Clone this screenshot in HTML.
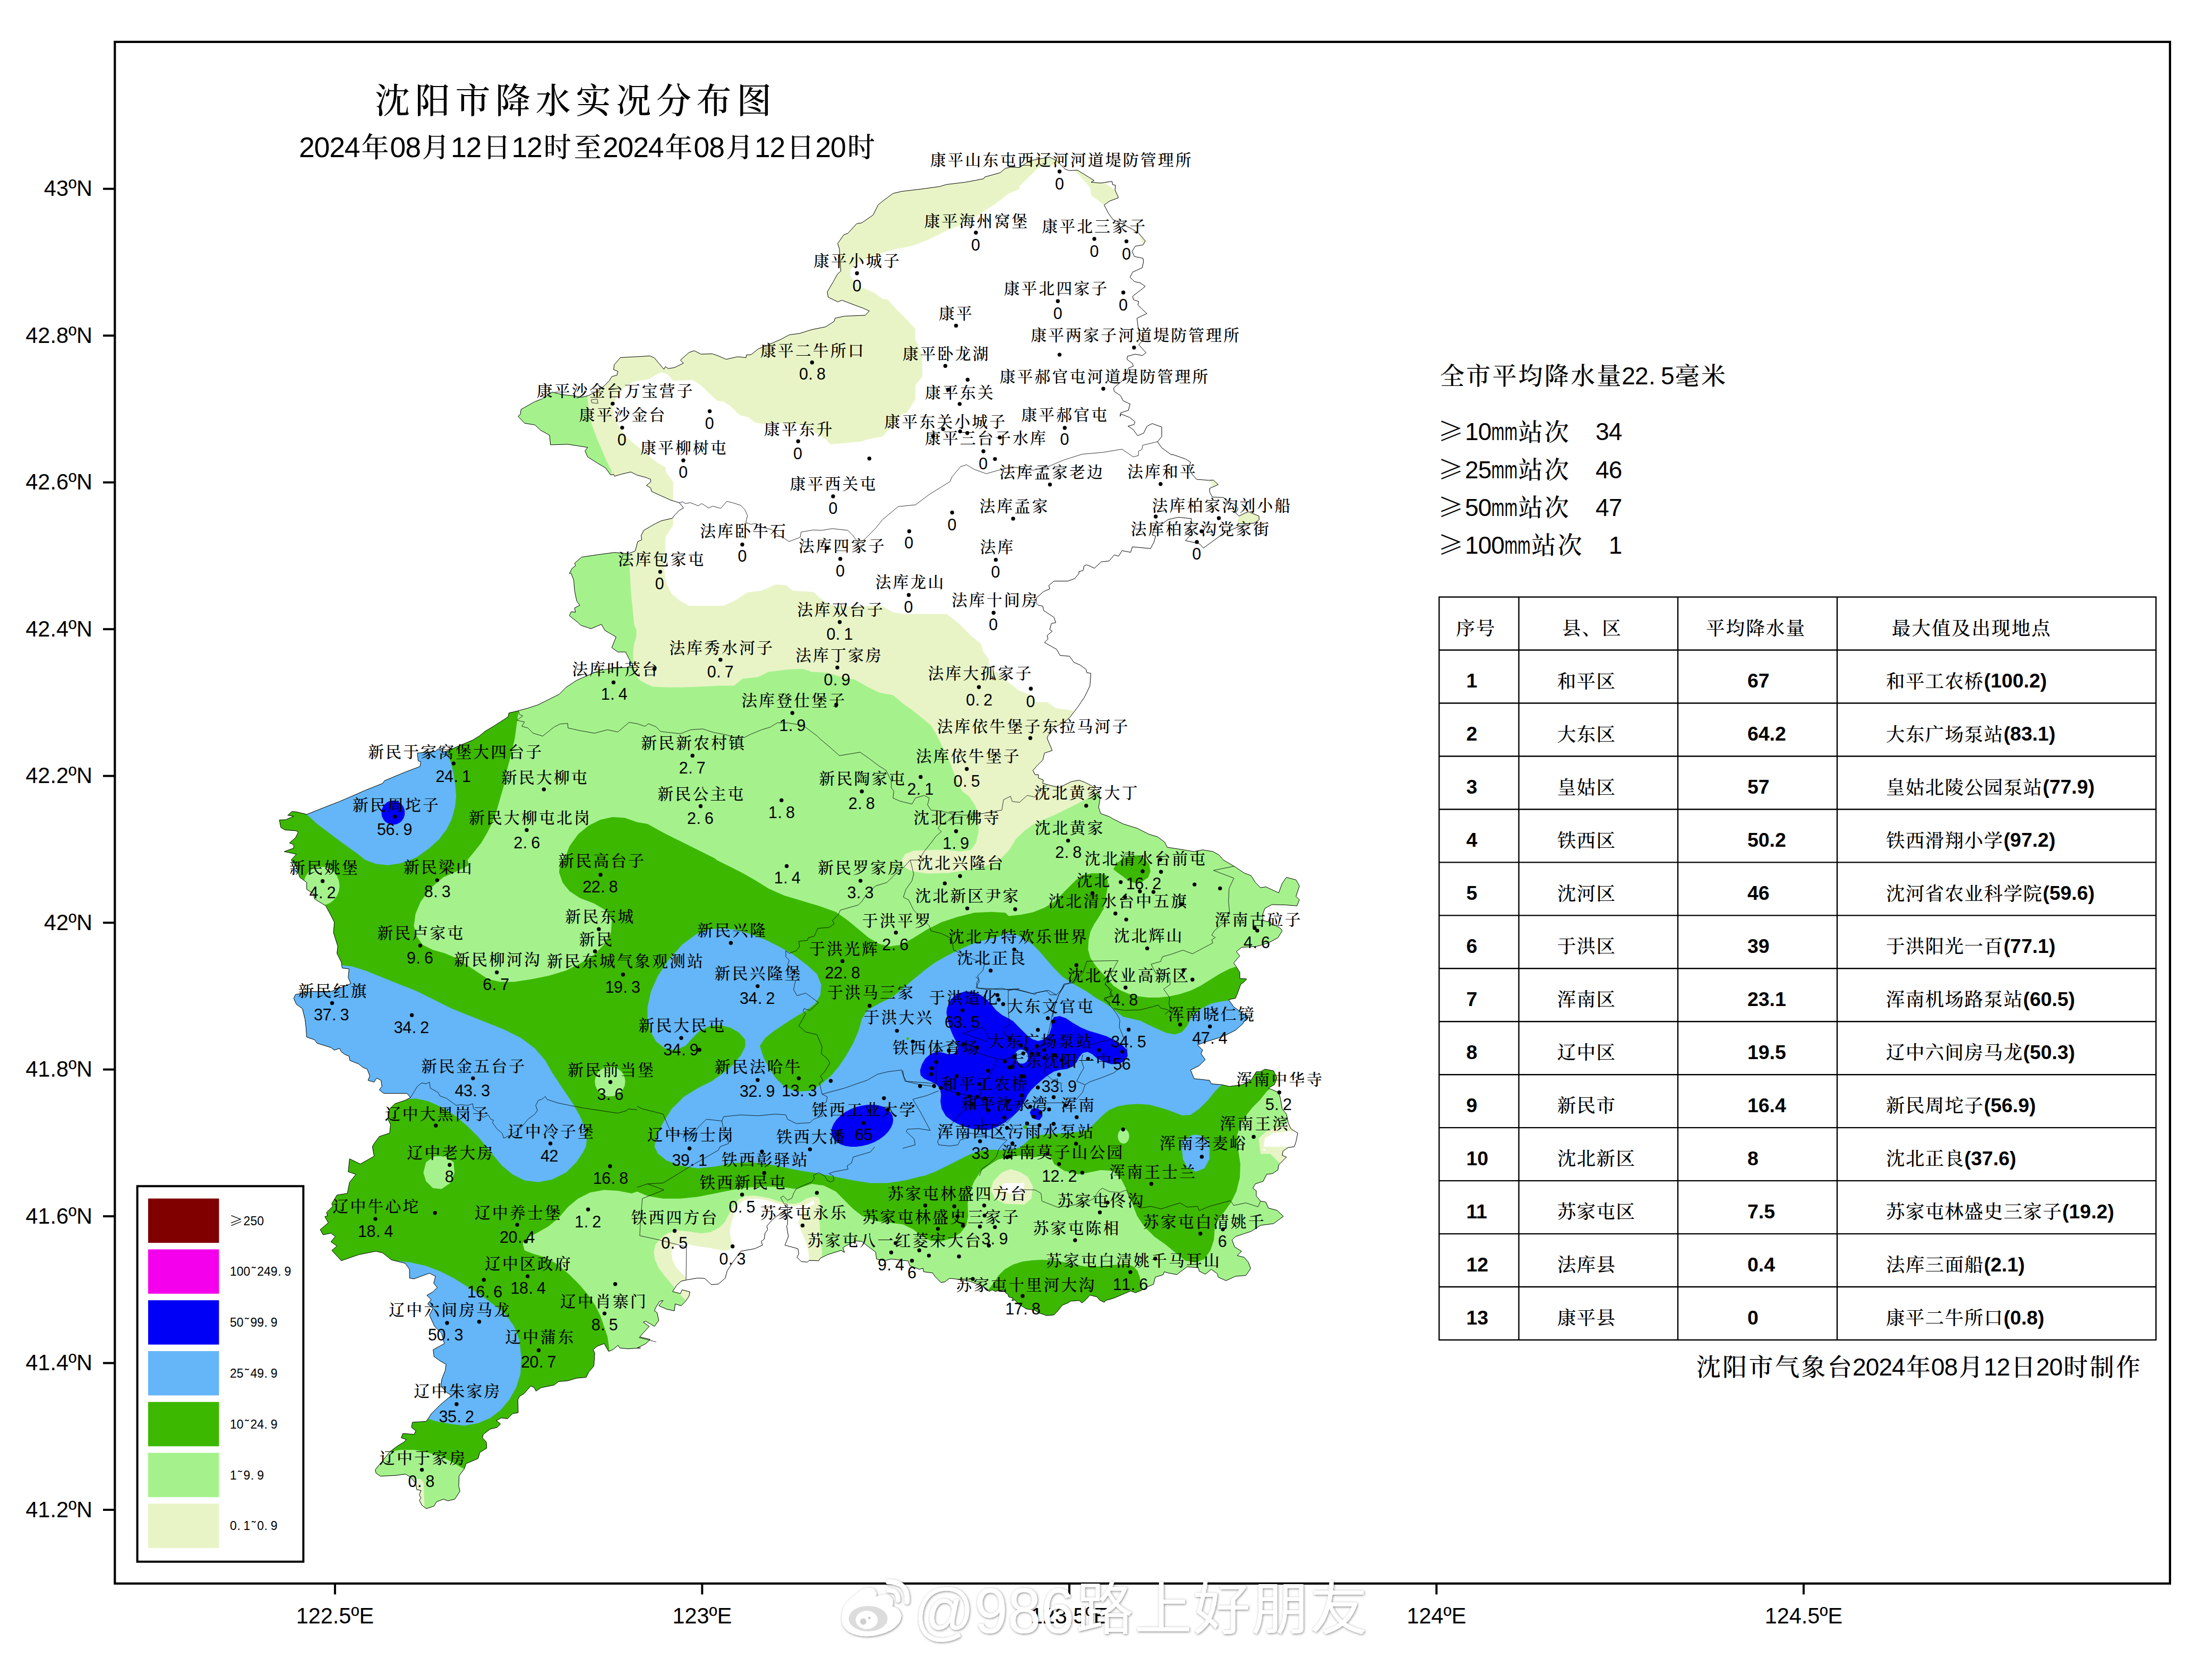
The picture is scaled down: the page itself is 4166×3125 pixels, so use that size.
<!DOCTYPE html><html><head><meta charset="utf-8"><title>沈阳市降水实况分布图</title>
<style>html,body{margin:0;padding:0;background:#fff}svg{display:block}.k{font-family:"Liberation Serif","Noto Serif CJK SC",serif;font-weight:500}.s{font-family:"Liberation Sans","Noto Sans CJK SC",sans-serif}.lb{font-family:"Liberation Serif","Noto Serif CJK SC",serif;font-size:29.8px;letter-spacing:3.2px;font-weight:500}.v{font-family:"Liberation Sans","Noto Sans CJK SC",sans-serif;font-size:30.5px;text-anchor:middle}</style></head><body>
<svg width="4166" height="3125" viewBox="0 0 4166 3125">
<rect x="0" y="0" width="4166" height="3125" fill="#fff"/>
<defs><clipPath id="city"><path d="M1224.4 670.4 L1232.6 674.3 L1250.5 695.8 L1253.1 690.6 L1258.6 694.2 L1270 692.5 L1287.2 684.1 L1281.4 678.5 L1297.7 663.9 L1307.4 660.6 L1320.4 667.1 L1341.6 666.5 L1353 670.4 L1367.6 676.9 L1388.8 672 L1405.1 673.6 L1405.7 668.8 L1414.8 667.8 L1427.9 657.4 L1447.4 649.2 L1470.2 639.5 L1486.5 630.7 L1506 628.1 L1528.8 620.9 L1554.8 615.7 L1571.1 605.3 L1572.7 599.4 L1590.6 595.5 L1629.7 593.9 L1637.2 585.8 L1626.4 580.9 L1585.7 565.6 L1577.6 568.5 L1559.7 559.7 L1558.1 549.9 L1569.5 530.4 L1577.6 515.8 L1583.5 510.9 L1580.9 468.6 L1577.6 458.8 L1589 442.5 L1597.1 439.3 L1613.4 421.4 L1623.2 419.7 L1644.3 405.1 L1654.1 385.6 L1662.2 379 L1681.8 364.4 L1698 360.5 L1733.9 356.3 L1769.7 351.4 L1782.7 347.5 L1818.5 343.2 L1852.7 336.7 L1854.3 333.5 L1883.6 325.3 L1893.4 317.2 L1903.1 314.9 L1920.1 315.6 L1939.5 302.6 L1962.3 298.6 L1977 296 L1990 302.6 L2006.3 318.8 L2014.4 321.4 L2029 320.5 L2050.2 333.5 L2060.6 340 L2055.1 343.2 L2073 344.9 L2094.2 341.6 L2095.8 348.1 L2100.7 348.8 L2100 357.9 L2106.5 372.5 L2089.3 379 L2079.5 386.2 L2087.6 401.8 L2095.8 413.2 L2115.3 423 L2131.6 431.1 L2144.6 439.3 L2157 453.9 L2152.7 461.4 L2138.1 463.7 L2132.2 473.5 L2136.5 483.2 L2152.7 486.5 L2153.7 493 L2151.1 504.4 L2133.2 512.5 L2128.3 522.3 L2136.5 530.4 L2147.9 533 L2157 539.5 L2133.2 558.1 L2134.8 564.6 L2144.6 567.9 L2143 574.4 L2151.1 582.5 L2159.9 590.6 L2141.4 599.4 L2143 613.4 L2146.2 628.1 L2154.4 639.5 L2144.6 649.2 L2158.6 664.5 L2151.1 669.7 L2138.1 667.1 L2123.5 671 L2122.5 676.9 L2133.2 685 L2134.2 689.9 L2125.7 693.2 L2121.8 702.9 L2115.3 716 L2097.4 730.6 L2098.4 737.1 L2110.4 745.3 L2115.3 755 L2128.3 760.9 L2125.1 772.9 L2110.4 777.8 L2109.5 784.3 L2111.5 780 L2127.8 786.5 L2137.6 794.6 L2136 799.5 L2124.6 802.8 L2134.3 809.3 L2142.5 820.7 L2153.9 815.8 L2160.4 802.8 L2170.1 797.9 L2188 804.4 L2188 822.3 L2179.9 832.1 L2188 843.5 L2205.9 856.5 L2209.8 856.5 L2232.6 864.6 L2242.3 870.5 L2239.1 880.9 L2245.6 893.9 L2253.7 903 L2276.5 904.7 L2285.3 904.3 L2294.4 912.8 L2278.1 920 L2278.1 926.5 L2283 936.2 L2304.2 937.2 L2312.3 946 L2323.7 949.3 L2331.8 958.4 L2327 966.2 L2333.5 972.1 L2343.2 967.2 L2351.4 963.9 L2370.9 972.1 L2371.5 979.2 L2362.8 985.1 L2349.7 986.7 L2330.2 993.2 L2304.2 1004.6 L2266.7 1032.3 L2258.6 1024.1 L2232.6 1018.3 L2242.3 1007.9 L2232.6 1004.6 L2242.3 991.6 L2243.9 976.9 L2219.5 974.3 L2200 978.6 L2186.4 988.3 L2173.4 998.1 L2170.1 1007.9 L2176.6 1009.5 L2173.4 1020.9 L2166.9 1033.3 L2132.7 1030 L2129.4 1040.4 L2113.2 1037.2 L2106.7 1047.6 L2098.5 1045.3 L2088.8 1056.7 L2074.1 1058.3 L2061.1 1070.4 L2052.9 1066.5 L2046.4 1063.9 L2041.5 1066.5 L2039.9 1074.6 L2031.8 1076.9 L2032.3 1080 L2024.2 1089.8 L2011.1 1094.6 L1985.1 1094.6 L1975.3 1102.8 L1977 1109.3 L1965.6 1114.2 L1952.6 1125.6 L1950.9 1135.3 L1955.8 1140.2 L1963.9 1141.8 L1965.6 1150 L1985.1 1163 L1988.4 1172.8 L1980.2 1174.4 L1977 1185.8 L1981.8 1189 L1972.1 1197.2 L1973.7 1203.7 L1967.2 1210.2 L1990 1223.2 L1996.5 1234.6 L2014.4 1236.2 L2022.5 1247.6 L2033.9 1252.5 L2045.3 1260.7 L2047 1267.2 L2054.4 1268.2 L2052.8 1291.6 L2043.7 1311.1 L2030.7 1330.7 L2014.4 1351.8 L2004.6 1359.9 L1986.7 1369.7 L1973.7 1386 L1972.1 1390.9 L1981.8 1413.7 L1967.2 1418.5 L1963.9 1431.6 L1952.6 1443 L1945.4 1451.1 L1949.3 1459.2 L1955.8 1459.2 L1955.8 1465.7 L1964.9 1469 L1963.9 1475.5 L1972.1 1477.8 L1994.9 1483.6 L2017.7 1472.3 L2032.3 1469.6 L2043.7 1473.9 L2056.7 1480.4 L2069.7 1493.4 L2071.4 1506.4 L2069.1 1521.1 L2073 1532.5 L2089.3 1538.3 L2095.8 1542.2 L2115.3 1552 L2141.4 1560.1 L2164.1 1571.5 L2180.4 1576.4 L2193.4 1586.2 L2198.3 1596 L2219.5 1599.2 L2248.8 1604.1 L2265.1 1600.8 L2284.6 1604.1 L2296 1610.6 L2304.1 1620 L2304.1 1620 L2325.3 1632.4 L2343.2 1644.4 L2356.2 1649.3 L2364.3 1662.3 L2374.1 1672.1 L2383.9 1670.5 L2408.3 1681.8 L2414.8 1663.9 L2422.9 1652.6 L2440.8 1657.4 L2447.3 1668.8 L2440.8 1688.4 L2447.3 1694.9 L2442.5 1706.3 L2421.3 1704.6 L2395.3 1704 L2382.2 1711.1 L2377.4 1724.2 L2379 1733.9 L2392 1737.2 L2411.5 1748.6 L2414.8 1753.5 L2406.7 1766.5 L2388.8 1776.2 L2366 1782.8 L2338.3 1784.4 L2328.5 1792.5 L2335 1800.7 L2323.6 1813.7 L2335 1831.6 L2335 1843 L2348.1 1844 L2343.2 1849.5 L2336.7 1854.4 L2330.2 1872.3 L2326.9 1880.4 L2313.9 1883 L2323.6 1896.7 L2349.7 1914.6 L2339.9 1929.2 L2326.9 1940.6 L2310.6 1948.8 L2294.3 1955.3 L2273.2 1961.8 L2255.3 1968.3 L2265.1 1978.1 L2261.8 1984.6 L2269.9 1996 L2258.5 2007.4 L2242.3 2015.5 L2248.8 2031.8 L2278.1 2035 L2281.3 2041.5 L2300.9 2043.2 L2315.5 2046.4 L2339.9 2043.2 L2356.2 2035 L2366 2018.8 L2374.1 2018.8 L2382.2 2013.9 L2398.5 2017.1 L2405 2030.2 L2400.1 2043.2 L2388.8 2049.7 L2408.3 2057.8 L2411.5 2069.2 L2414.8 2088.8 L2422.9 2098.5 L2426.2 2114.8 L2431.1 2126.2 L2444.1 2134.3 L2440.8 2150.6 L2437.6 2160 L2426.2 2161.6 L2416.4 2168.1 L2414.8 2176.3 L2422.9 2179.5 L2408.3 2194.2 L2406.7 2203.9 L2396.9 2210.5 L2385.5 2212.1 L2379 2225.1 L2364.3 2230 L2359.5 2238.1 L2366 2243 L2366 2252.8 L2374.1 2262.5 L2383.9 2264.2 L2388.8 2275.6 L2405 2279.8 L2417.1 2291.2 L2398.5 2304.9 L2374.1 2308.1 L2356.2 2319.5 L2326.9 2329.3 L2320.4 2335.8 L2325.3 2348.8 L2338.3 2356.9 L2330.2 2365.1 L2343.2 2368.3 L2351.3 2378.1 L2355.5 2389.5 L2346.4 2402.5 L2326.9 2404.1 L2309 2412.3 L2294.3 2405.8 L2292.7 2399.3 L2281.3 2391.1 L2269.9 2400.2 L2258.5 2394.4 L2256.9 2387.9 L2235.8 2386.2 L2216.2 2400.9 L2200 2397.8 L2192.8 2395.6 L2190.5 2401.2 L2175.8 2405.7 L2172.4 2419.3 L2161.1 2423.8 L2149.8 2430.6 L2138.5 2435.1 L2129.5 2431.7 L2113.7 2438.5 L2097.8 2445.3 L2082 2449.8 L2079.7 2453.2 L2070.7 2448.7 L2066.2 2443 L2052.6 2439.6 L2045.8 2447.5 L2037.9 2454.3 L2032.3 2449.8 L2016.5 2450.9 L2011.9 2453.9 L2000.6 2458.8 L1991.6 2470.1 L1984.8 2476.9 L1971.2 2478.1 L1957.7 2473.5 L1948.6 2467.9 L1932.8 2465.6 L1926 2461.1 L1918.1 2456.6 L1911.3 2448.7 L1905.7 2449.8 L1908 2445.3 L1900 2443 L1897.8 2437.4 L1893.3 2435.1 L1892.1 2429.5 L1880.8 2430.6 L1875.2 2432.8 L1868.4 2429.5 L1862.7 2432.8 L1858.2 2427.2 L1844.7 2420.4 L1826.6 2413.6 L1799.5 2409.1 L1788.2 2408 L1779.1 2414.8 L1772.3 2415.9 L1761 2404.6 L1756.5 2397.8 L1739.6 2395.6 L1738.4 2388.8 L1731.6 2391 L1713.6 2384.2 L1710.2 2375.2 L1700 2374.1 L1678.5 2371.6 L1665.5 2374.8 L1650.8 2371.6 L1649.2 2358.6 L1636.2 2348.8 L1623.2 2338.4 L1611.8 2337.4 L1595.5 2345.5 L1587.4 2350.4 L1590.6 2359.2 L1584.1 2355.3 L1558.1 2363.5 L1545.1 2370 L1541.8 2374.8 L1523.9 2374.2 L1520.6 2377.4 L1509.2 2376.5 L1501.1 2368.3 L1504.4 2361.8 L1502.7 2352.1 L1478.3 2345.5 L1484.8 2329.3 L1481.6 2309.7 L1483.2 2306.5 L1483.2 2278.8 L1463.7 2290.2 L1453.9 2298.3 L1444.1 2309.7 L1445.8 2316.2 L1440.9 2322.8 L1439.3 2334.2 L1433.7 2338.4 L1436 2345.5 L1421.4 2352.1 L1395.3 2356.9 L1385.5 2370 L1377.4 2381.4 L1369.3 2394.4 L1366 2407.4 L1353 2418.8 L1340 2419.8 L1327 2408 L1313.9 2407.4 L1294.4 2410.7 L1283 2413.3 L1274.9 2420.4 L1266.7 2432.8 L1281.4 2436.7 L1284.6 2429.5 L1299.3 2433.4 L1297.7 2441.6 L1291.1 2451.3 L1283 2459.5 L1271.6 2456.2 L1270 2469.2 L1255.3 2466 L1240.7 2459.5 L1248.8 2449.7 L1242.3 2451.3 L1234.2 2464.4 L1232.6 2469.2 L1237.4 2472.5 L1240.7 2487.1 L1232.6 2498.5 L1216.3 2488.8 L1211.4 2490.4 L1222.8 2498.5 L1204.9 2518.1 L1224.4 2523 L1216.3 2531.1 L1200 2539.2 L1206.4 2539.1 L1182 2540.7 L1167.3 2539.1 L1164.1 2534.2 L1154.3 2542.3 L1146.2 2545.6 L1138 2530.9 L1125 2535.8 L1116.9 2542.3 L1120.1 2548.8 L1118.5 2573.2 L1108.8 2584.6 L1103.9 2594.4 L1086 2596 L1069.7 2600.9 L1051.8 2602.5 L1043.6 2609 L1019.2 2613.9 L1009.5 2620.4 L1006.2 2613.9 L999.7 2610.7 L986.7 2625.3 L978.5 2630.2 L975.3 2636.7 L975.9 2661.1 L965.5 2662.8 L955.8 2672.5 L944.4 2670.9 L934.6 2675.8 L942.7 2682.3 L936.2 2688.8 L923.2 2692.1 L910.2 2701.8 L908.6 2708.3 L916 2716.5 L916.7 2727.9 L903.7 2736 L900.4 2747.4 L877.6 2757.2 L874.4 2766.9 L864.6 2779.9 L864 2799.5 L866.2 2809.2 L856.5 2823.9 L843.5 2827.1 L835.3 2823.9 L822.3 2828.8 L817.4 2836.9 L802.8 2841.8 L794.6 2835.3 L789.7 2825.5 L793 2822.3 L789.7 2815.8 L793 2807.6 L784.9 2806 L783.2 2794.6 L773.5 2782.6 L763.7 2776.7 L744.2 2779.3 L716.5 2780.6 L708.4 2775.1 L706.7 2768.6 L721.4 2750.7 L734.4 2734.4 L747.4 2724.6 L760.4 2716.5 L765.3 2711.6 L755.6 2708.3 L758.8 2700.2 L780 2701.8 L783.2 2695.3 L775.1 2688.8 L776.7 2679 L802.8 2677.4 L812.5 2662.8 L828.8 2646.5 L850 2628.6 L840.2 2622.1 L830.4 2610.7 L832.1 2597.7 L838.6 2581.4 L840.2 2570 L828.8 2563.5 L817.4 2555.3 L815.8 2542.3 L836.9 2530.9 L835.3 2524.4 L831.6 2511.6 L818.5 2498.5 L808.8 2477.4 L815.3 2464.4 L805.5 2456.2 L812 2448.1 L803.9 2439.9 L815.3 2433.4 L823.4 2425.3 L816.9 2417.2 L820.2 2404.1 L808.8 2398.3 L779.5 2409 L771.3 2407.4 L771.3 2391.1 L763.2 2379.7 L737.2 2373.2 L720.9 2360.2 L707.9 2356.9 L675.3 2363.5 L642.8 2374.8 L624.9 2355.3 L634.6 2347.2 L623.2 2339 L631.4 2329.3 L623.2 2322.8 L608.6 2326 L603 2316.2 L618.3 2303.2 L611.8 2291.8 L616.7 2290.2 L615.1 2283.7 L626.5 2272.3 L624.9 2267.4 L634.6 2251.1 L654.2 2247.9 L658.4 2226.7 L670.4 2212.1 L655.8 2207.2 L658.4 2182.8 L678.6 2192.6 L704.6 2177.9 L701.4 2160 L701.4 2160 L704.6 2153.9 L714.4 2140.8 L733.9 2134.3 L735.5 2118 L730.7 2108.3 L733.9 2088.8 L743.7 2079 L763.2 2072.5 L773 2067.6 L766.5 2059.5 L722.5 2059.5 L714.4 2052.9 L719.3 2046.4 L717.6 2035 L709.5 2030.8 L704.6 2038.3 L693.2 2035 L696.5 2026.9 L691.6 2013.9 L683.5 2010.6 L675.3 2004.1 L659 1997.6 L657.4 1989.5 L649.3 1986.2 L642.8 1981.3 L639.5 1974.8 L629.7 1978.1 L623.2 1973.2 L597.2 1965.1 L592.3 1958.5 L577.7 1953.7 L576 1932.5 L574.4 1919.5 L569.5 1899.9 L558.1 1891.8 L553.2 1880.4 L556.5 1873.3 L587.4 1867.4 L620 1869 L660.7 1852.7 L655.8 1841.4 L657.4 1825.1 L644.4 1823.5 L642.8 1812.1 L634.6 1795.8 L636.2 1782.8 L628.1 1756.7 L629.7 1737.2 L623.2 1724.2 L613.5 1706.3 L592.3 1693.2 L590.7 1683.5 L577.7 1675.3 L577.7 1662.3 L564.6 1652.6 L558.1 1633 L548.4 1620 L548.4 1620 L558.1 1609 L535.3 1604.1 L553.2 1597.6 L553.2 1591.1 L545.1 1587.8 L556.5 1578 L561.4 1568.3 L558.1 1565 L537 1563.4 L528.8 1558.5 L526.2 1544.5 L538.6 1543.9 L553.2 1537.4 L541.8 1535.7 L550 1528.6 L558.1 1529.2 L577.7 1534.1 L610.2 1521.1 L639.5 1509.7 L662.3 1499.9 L688.3 1488.5 L720.9 1475.5 L724.1 1470.6 L763.2 1454.3 L790.9 1443.9 L792.5 1434.8 L787.6 1433.2 L786 1418.5 L820.2 1415.3 L825.1 1410.4 L834.8 1416.9 L847.8 1412 L870.6 1402.3 L890.2 1394.1 L903.2 1386 L912.9 1377.9 L929.2 1368.1 L942.2 1359.9 L956.9 1350.2 L958.5 1343 L976.4 1338.8 L994.3 1333.9 L1013.9 1327.4 L1030.1 1319.3 L1052.9 1307.9 L1065.9 1294.8 L1085.5 1281.8 L1114.8 1268.8 L1131 1262.3 L1157.1 1258.4 L1179.9 1257.4 L1191.9 1252.5 L1186.4 1244.4 L1178.2 1228.1 L1163.6 1228.1 L1152.2 1220 L1160.3 1199.8 L1147.3 1192.3 L1139.2 1187.4 L1132.7 1176 L1113.1 1184.2 L1093.6 1177.7 L1088.7 1172.8 L1072.4 1159.8 L1075.7 1152.3 L1083.8 1153.2 L1082.2 1145.1 L1092 1140.2 L1086.1 1132.1 L1082.2 1112.6 L1080.6 1093 L1075.7 1080 L1072.5 1080 L1077.4 1070.6 L1083.9 1065.7 L1082.3 1060.8 L1095.3 1049.4 L1127.9 1044.6 L1157.2 1040.7 L1183.2 1042.9 L1196.2 1038 L1201.1 1020.1 L1208.6 1016.9 L1207.6 1008.8 L1212.5 999 L1232 987.6 L1245.1 981.1 L1266.2 976.2 L1271.1 969.7 L1279.2 961.5 L1287.4 956.7 L1279.2 946.9 L1263 942 L1245.1 933.9 L1227.1 925.7 L1225.5 919.2 L1217.4 914.3 L1225.5 907.8 L1225.5 903 L1217.4 899.7 L1199.5 894.8 L1188.1 889 L1170.2 893.2 L1157.2 897.1 L1155.5 893.2 L1150 894.8 L1140.9 881.8 L1124.6 872 L1106.7 860.6 L1101.8 849.2 L1106.7 842.7 L1069.3 836.9 L1036.7 837.9 L1035.1 819.9 L1017.8 810.2 L1007.4 800.4 L987.9 797.2 L975.5 784.1 L979.8 780.9 L981.4 771.1 L1007.4 756.5 L1020.4 751.6 L1040 738.6 L1059.5 743.5 L1077.4 745.1 L1095.3 748.3 L1108.3 745.1 L1114.8 741.8 L1127.9 735.3 L1139.3 725.5 L1147.4 717.4 L1152.3 709.3 L1162 706.7 L1163.7 699.5 L1155.5 696.2 L1157.2 686.5 L1168.6 673.5 L1201.1 671.8Z"/></clipPath></defs>
<g clip-path="url(#city)">
<path d="M850 200 L2650 200 L2650 1700 L850 1700Z" fill="#E8F4C6"/>
<path d="M1920.1 356.3 L1899.9 364.4 L1877.1 382.3 L1854.3 397 L1834.8 410 L1812 423 L1785.9 432.8 L1766.4 442.5 L1750.1 450.7 L1720.8 462.1 L1707.8 465.3 L1681.8 470.2 L1655.7 478.3 L1632.9 486.5 L1610.2 497.9 L1602 507.6 L1601 519 L1606.9 527.2 L1619.9 540.2 L1636.2 546.7 L1649.2 553.2 L1662.2 563 L1672 564.6 L1688.3 582.5 L1707.8 602 L1724.1 619.9 L1723.4 637.8 L1737.1 670.4 L1737.1 709.5 L1724.1 725.7 L1724.1 751.8 L1707.8 777.8 L1698.1 780 L1685.1 796.3 L1662.3 822.3 L1636.3 827.2 L1620 832.1 L1564.1 836.9 L1554.3 826.5 L1538 816.7 L1515.2 800.4 L1472.9 797.2 L1450.1 797.2 L1437.1 798.8 L1420.8 795.5 L1409.4 785.8 L1394.8 782.5 L1388.3 777.6 L1375.3 764.6 L1362.2 756.5 L1350.8 754.8 L1336.2 741.8 L1319.9 725.5 L1303.6 715.8 L1267.8 717.4 L1258.1 706 L1246.7 701.1 L1235.3 706 L1222.3 714.2 L1193 719 L1176.7 728.8 L1160.4 748.3 L1153.9 767.9 L1157.2 787.4 L1170.2 810.2 L1183.2 826.5 L1202.7 842.7 L1222.3 859 L1238.5 872 L1253.2 880.2 L1254.8 889.9 L1267.8 907.8 L1267.8 940.4 L1267.8 989.2 L1261.3 999 L1253.2 1012 L1253.2 1041.3 L1249.9 1060.8 L1251.6 1080 L1255.3 1099.5 L1265.1 1119.1 L1281.4 1132.1 L1297.7 1140.9 L1362.8 1140.9 L1385.5 1130.5 L1408.3 1115.8 L1434.4 1112.6 L1460.4 1101.2 L1479.9 1102.1 L1493 1112.6 L1532 1115.2 L1551.6 1132.1 L1571.1 1141.8 L1662.2 1141.8 L1681.8 1153.2 L1701.3 1156.5 L1782.7 1156.5 L1805.5 1173.9 L1828.3 1196.7 L1847.9 1212.9 L1851.1 1226 L1862.5 1242.2 L1862.5 1258.5 L1880.4 1268.3 L1896.7 1282.9 L1919.5 1300.8 L1945.5 1310.6 L1952.6 1322.5 L1972.1 1322.5 L1988.4 1333.9 L2014.4 1337.2 L2024.2 1340.4 L2100 1345 L2700 1345 L2700 250 L2100 250 L1994.9 304.2 L1988.4 310.7 L1962.3 313.9 L1952.6 318.8 L1939.5 331.8 L1920 350.7Z" fill="#FFFFFF"/>
<path d="M2017.7 315.6 L2030.7 312.3 L2115.3 367.7 L2102.3 379 L2079.5 386.2 L2055.1 367.7 L2053.5 354.6 L2040.4 338.4 L2024.2 322.1Z" fill="#E8F4C6"/>
<path d="M2144.6 439.3 L2157 447.4 L2160.9 457.2 L2152.7 461.4 L2149.5 452.3Z" fill="#E8F4C6"/>
<path d="M2276.5 900.4 L2287.9 900.4 L2297.7 912.8 L2286.3 916.1Z" fill="#E8F4C6"/>
<path d="M2331.8 975.3 L2343.2 963.9 L2353 960.7 L2374.2 970.4 L2375.8 980.2 L2362.8 985.7 L2330.2 985.7Z" fill="#E8F4C6"/>
<path d="M2279.2 904.7 L2287.3 902.1 L2297.1 913.5 L2284.1 916.7Z" fill="#E8F4C6"/>
<path d="M950 700 L1106.7 735.3 L1106.7 745.1 L1108.3 774.4 L1114.8 800.4 L1124.6 826.5 L1134.4 849.2 L1142.5 868.8 L1152.3 888.3 L1150.7 901.3 L950 900Z" fill="#A5F28D"/>
<path d="M1100 1020 L1183.2 1042.9 L1186.5 1080 L1188 1112.6 L1191.3 1145 L1194.5 1177.7 L1198.9 1186.8 L1198 1201.3 L1194.4 1212.1 L1192.6 1226.6 L1192.2 1244.7 L1194.4 1259.1 L1198.9 1273.6 L1204.3 1280.8 L1217 1288.1 L1229.7 1293.5 L1253.2 1294.4 L1284.6 1294.8 L1323.7 1293.2 L1356.3 1291.6 L1382.3 1291.6 L1398.6 1278.6 L1427.9 1275.3 L1447.4 1265.5 L1486.5 1260.7 L1512.5 1260 L1528.8 1265.5 L1558.1 1267.2 L1584.1 1275.3 L1610.2 1280.2 L1632.9 1293.2 L1655.7 1304.6 L1681.8 1309.5 L1701.3 1325.8 L1717.6 1337.2 L1733.9 1350.2 L1753.4 1366.5 L1763.2 1382.7 L1772.9 1402.3 L1782.7 1421.8 L1792.4 1444.6 L1802.2 1470.6 L1812 1490.2 L1825 1499.9 L1838 1519.5 L1842.9 1542.2 L1842.9 1568.3 L1838 1587.8 L1828.3 1600.8 L1808.7 1604.1 L1782.7 1600.8 L1759.9 1600.8 L1720.8 1602.5 L1704.6 1609 L1698 1620 L1702.9 1633 L1717.6 1641.2 L1746.9 1645.4 L1785.9 1644.4 L1818.5 1639.5 L1851 1633 L1880 1622 L1900 1602 L1913.6 1580 L1929.4 1564.9 L1945.2 1553.6 L1963.3 1544.5 L1985.1 1535.7 L2017.7 1519.5 L2037.2 1509.7 L2056.7 1499.9 L2085 1485 L2700 1450 L2700 3000 L400 3000 L400 1020Z" fill="#A5F28D"/>
<path d="M960 1300 L976.4 1340.4 L973.2 1363.2 L969.9 1389.2 L961.8 1425.1 L953.6 1454.3 L948.8 1480.4 L942.2 1503.2 L935.7 1526 L927.6 1548.8 L917.8 1568.3 L906.4 1587.8 L893.4 1604.1 L880.4 1620 L883.6 1629.8 L864.1 1639.5 L834.8 1652.6 L812 1672.1 L792.5 1698.1 L782.7 1720.9 L779.5 1743.7 L784.4 1763.2 L795.8 1779.5 L815.3 1789.3 L838.1 1795.8 L860.9 1805.5 L880.4 1818.6 L899.9 1831.6 L919.5 1844.6 L942.2 1849.5 L968.3 1849.5 L1000.8 1844.6 L1033.4 1838.1 L1065.9 1828.3 L1092 1815.3 L1118 1799 L1137.6 1779.5 L1150.6 1756.7 L1152.2 1733.9 L1140.8 1714.4 L1118 1701.4 L1092 1691.6 L1072.4 1678.6 L1059.4 1662.3 L1052.9 1642.8 L1056.2 1620 L1062.7 1620 L1072.4 1594.3 L1088.7 1571.5 L1108.3 1555.3 L1131 1543.9 L1153.8 1539 L1176.6 1540.6 L1200.1 1548.8 L1219.5 1552 L1248.8 1568.3 L1281.4 1584.6 L1313.9 1600.8 L1346.5 1617.1 L1349.7 1620 L1369.3 1629.8 L1395.3 1642.8 L1421.4 1657.4 L1447.4 1673.7 L1476.7 1686.7 L1509.2 1696.5 L1541.8 1706.3 L1574.3 1717.7 L1597.1 1733.9 L1616.7 1750.2 L1636.2 1766.5 L1655.7 1777.9 L1675.3 1782.8 L1698 1779.5 L1720.8 1766.5 L1746.9 1750.2 L1772.9 1737.2 L1802.2 1727.4 L1834.8 1719.3 L1867.3 1717.7 L1893.4 1719.3 L1900 1725.4 L1922.6 1723.1 L1945.2 1718.6 L1967.8 1709.5 L1985.9 1698.2 L1999.5 1684.7 L2013 1671.1 L2026.6 1657.5 L2040.1 1648.5 L2056 1645.1 L2071.8 1645.1 L2083.1 1648.5 L2086.5 1659.8 L2085.4 1675.6 L2082 1693.7 L2078.6 1711.8 L2069.5 1727.6 L2060.5 1741.2 L2053.7 1754.7 L2050.3 1770.6 L2049.2 1788.6 L2053.7 1804.5 L2062.7 1818 L2074.1 1831.6 L2085.4 1842.9 L2096.7 1856.5 L2110.2 1865.5 L2126 1872.3 L2144.1 1876.8 L2162.2 1879.1 L2182.5 1879.1 L2202.9 1876.8 L2223.2 1872.3 L2243.6 1865.5 L2261.7 1856.5 L2279.7 1845.2 L2297.8 1833.9 L2315.9 1824.8 L2329.5 1820.3 L2345 1815 L2700 1800 L2700 3000 L400 3000 L400 1300Z" fill="#3CB800"/>
<path d="M2096.7 1637.2 L2103.4 1625.9 L2114.7 1616.9 L2128.3 1612.3 L2141.9 1611.2 L2155.4 1616.9 L2164.5 1628.2 L2166.7 1641.7 L2162.2 1653 L2150.9 1660.9 L2137.3 1663.2 L2126 1659.8 L2114.7 1650.8 L2103.4 1642.8Z" fill="#3CB800"/>
<path d="M984.6 2342.3 L991.1 2332.5 L1010.6 2322.8 L1033.4 2309.7 L1052.9 2293.5 L1069.2 2273.9 L1088.7 2257.7 L1111.5 2246.3 L1137.6 2241.4 L1163.6 2243 L1189.6 2247.9 L1200 2244.6 L1219.5 2252.8 L1248.8 2257.7 L1281.4 2257.7 L1313.9 2254.4 L1346.5 2247.9 L1379 2241.4 L1411.6 2236.5 L1444.1 2234.9 L1476.7 2236.5 L1499.5 2239.8 L1528.8 2230 L1551.6 2233.2 L1574.3 2244.6 L1590.6 2260.9 L1606.9 2277.2 L1623.2 2290.2 L1649.2 2300 L1675.3 2303.2 L1701.3 2306.5 L1720.8 2316.2 L1737.1 2329.3 L1753.4 2337.4 L1772.9 2338.4 L1792.4 2332.5 L1808.7 2322.8 L1820.1 2308.1 L1823.4 2290.2 L1822.4 2267.4 L1826.6 2244.6 L1834.8 2225.1 L1847.8 2205.6 L1864 2194 L1880 2184 L1900 2179 L1920 2177 L1948.6 2180 L1962.2 2176.8 L1973.5 2174.5 L1980.3 2181.3 L1985.1 2192.6 L2004.6 2205.6 L2030.7 2212.1 L2050.2 2208.8 L2073 2203.9 L2095.8 2205.6 L2112 2221.8 L2121.8 2241.4 L2131.6 2264.2 L2141.4 2290.2 L2154.4 2309.7 L2173.9 2329.3 L2196.7 2345.5 L2216.2 2361.8 L2232.5 2374.8 L2252 2378.1 L2268.3 2371.6 L2279.7 2355.3 L2286.2 2335.8 L2287.8 2313 L2294.3 2296.7 L2307.4 2280.4 L2318.8 2264.2 L2328.5 2244.6 L2335 2218.6 L2336 2192.6 L2331.8 2165 L2330.2 2137.6 L2336.7 2118 L2346.4 2101.8 L2359.4 2085.5 L2372.5 2072.5 L2385.5 2056.2 L2400.1 2043.2 L2440 2020 L2700 2000 L2700 3000 L1147 3000 L1147.3 2560 L1147.3 2539.2 L1144.1 2518.1 L1137.6 2498.5 L1131 2479 L1121.3 2459.5 L1108.3 2439.9 L1092 2420.4 L1072.4 2400.9 L1049.7 2381.4 L1026.9 2368.3 L1004.1 2361.8 L987.8 2355.3Z" fill="#A5F28D"/>
<path d="M1861.6 2429.5 L1871.8 2415.9 L1880.8 2402.3 L1892.1 2391 L1908 2382 L1926 2376.3 L1944.1 2374.1 L1962.2 2372.9 L1982.5 2374.1 L2002.9 2377.5 L2023.2 2382 L2043.6 2385.4 L2063.9 2386.1 L2084.3 2384.2 L2104.6 2382 L2122.7 2381.5 L2134 2385.4 L2141.9 2393.3 L2146.4 2404.6 L2148.7 2418.2 L2149.8 2430.6 L2149.8 2488.2 L1861.6 2488.2Z" fill="#3CB800"/>
<path d="M1231.5 2358.2 L1234.2 2344.7 L1243.3 2333.4 L1256.9 2323.2 L1274.9 2317.5 L1297.5 2319.8 L1320.1 2323.2 L1338.2 2320.9 L1354.1 2313 L1365.4 2301.7 L1372.1 2288.2 L1381.2 2272.3 L1390.2 2259.9 L1403.8 2253.1 L1419.6 2252 L1435.4 2254.2 L1451.2 2257.6 L1467.1 2263.3 L1482.9 2266.7 L1496.5 2267.8 L1507.8 2264.4 L1519.1 2257.6 L1530.4 2254.2 L1541.7 2255.4 L1545.1 2265.6 L1543.9 2283.6 L1543.5 2301.7 L1544.4 2319.8 L1546.2 2340.1 L1548.4 2358.2 L1547.3 2371.8 L1547.3 2403.4 L1383.4 2459.9 L1297.5 2455.4 L1288.5 2446.4 L1279.5 2437.3 L1270.4 2426 L1261.4 2414.7 L1250.1 2401.2 L1239.9 2387.6 L1233.1 2371.8Z" fill="#E8F4C6"/>
<path d="M1264.8 2358.2 L1267 2349.2 L1274.9 2343.5 L1286.2 2341.3 L1299.8 2344.7 L1315.6 2348.1 L1333.7 2350.3 L1351.8 2353.7 L1365.4 2356 L1374.4 2353.7 L1380 2344.7 L1376.7 2333.4 L1374.4 2319.8 L1376.7 2306.2 L1381.2 2290.4 L1388 2274.6 L1397 2263.3 L1408.3 2258.8 L1424.1 2258.3 L1439.9 2259.9 L1455.8 2264.4 L1471.6 2268.9 L1482.9 2270.1 L1496.5 2272.3 L1505.5 2270.1 L1516.8 2270.1 L1525.8 2264.4 L1532.6 2259.9 L1533.8 2267.8 L1525.8 2272.3 L1516.8 2279.1 L1507.8 2290.4 L1503.2 2301.7 L1506.6 2313 L1512.3 2326.6 L1517.9 2340.1 L1522.5 2356 L1524 2371.8 L1523.6 2403.4 L1383.4 2448.6 L1297.5 2417 L1290.8 2404.6 L1281.7 2396.7 L1272.7 2385.4 L1265.9 2371.8Z" fill="#FFFFFF"/>
<path d="M1865.7 2241.4 L1870.6 2225.1 L1886.8 2208.8 L1903.1 2202.3 L1920.1 2207.2 L1935.7 2217 L1945.4 2234.9 L1942.2 2257.7 L1929.2 2269 L1893.4 2267.4 L1873.8 2257.7Z" fill="#E8F4C6"/>
<path d="M1883.6 2238.1 L1893.4 2225.1 L1906.4 2217 L1920.1 2220.2 L1929.2 2230 L1927.5 2246.3 L1920.1 2251.1 L1899.9 2247.9Z" fill="#FFFFFF"/>
<path d="M2427.8 2113.2 L2408.3 2122.9 L2385.5 2131.1 L2370.8 2144.1 L2372.5 2160 L2374.1 2173.4 L2473.4 2173.4 L2473.4 2113.2Z" fill="#E8F4C6"/>
<path d="M2379 2166.9 L2382.2 2144.1 L2398.5 2134.3 L2427.8 2131.1 L2473.4 2131.1 L2473.4 2166.9Z" fill="#FFFFFF"/>
<path d="M2375.7 2160 L2388.8 2169.8 L2401.8 2182.8 L2414.8 2195.8 L2440.8 2195.8 L2440.8 2160Z" fill="#E8F4C6"/>
<path d="M1892.1 2215 L1898.9 2208.4 L1908 2205.1 L1917 2208.4 L1923.8 2215 L1926 2228.8 L1889.9 2228.8Z" fill="#E8F4C6"/>
<path d="M734.4 2734.4 L753.9 2731.1 L780 2731.1 L806 2736 L832.1 2744.1 L851.6 2753.9 L867.9 2763.7 L880.9 2770.2 L880.9 2858.1 L688.8 2858.1 L688.8 2760.4Z" fill="#A5F28D"/>
<path d="M780 2784.8 L793 2786.5 L797.9 2793 L799.5 2838.5 L780 2838.5Z" fill="#E8F4C6"/>
<path d="M639.5 1668.8 L638.3 1678.3 L634.9 1687.1 L629.5 1694.6 L622.4 1700.4 L614.2 1704 L605.3 1705.3 L596.5 1704 L588.2 1700.4 L581.2 1694.6 L575.7 1687.1 L572.3 1678.3 L571.1 1668.8 L572.3 1659.4 L575.7 1650.6 L581.2 1643 L588.2 1637.3 L596.5 1633.6 L605.3 1632.4 L614.2 1633.6 L622.4 1637.3 L629.5 1643 L634.9 1650.6 L638.3 1659.4Z" fill="#A5F28D"/>
<path d="M1177.6 2037.3 L1176.6 2044.6 L1173.8 2051.3 L1169.2 2057.1 L1163.3 2061.6 L1156.4 2064.4 L1148.9 2065.3 L1141.5 2064.4 L1134.6 2061.6 L1128.7 2057.1 L1124.1 2051.3 L1121.3 2044.6 L1120.3 2037.3 L1121.3 2030.1 L1124.1 2023.3 L1128.7 2017.5 L1134.6 2013.1 L1141.5 2010.3 L1148.9 2009.3 L1156.4 2010.3 L1163.3 2013.1 L1169.2 2017.5 L1173.8 2023.3 L1176.6 2030.1Z" fill="#A5F28D"/>
<path d="M797.4 2208.8 L802.3 2189.3 L818.5 2177.9 L838.1 2177.9 L854.3 2189.3 L856 2208.8 L847.8 2228.4 L831.6 2239.8 L815.3 2238.1 L802.3 2225.1Z" fill="#A5F28D"/>
<path d="M2126.7 2140.2 L2126.3 2143.7 L2125.3 2147 L2123.6 2149.8 L2121.3 2152 L2118.7 2153.4 L2116 2153.9 L2113.2 2153.4 L2110.6 2152 L2108.4 2149.8 L2106.7 2147 L2105.6 2143.7 L2105.2 2140.2 L2105.6 2136.6 L2106.7 2133.3 L2108.4 2130.5 L2110.6 2128.3 L2113.2 2127 L2116 2126.5 L2118.7 2127 L2121.3 2128.3 L2123.6 2130.5 L2125.3 2133.3 L2126.3 2136.6Z" fill="#A5F28D"/>
<path d="M2126.1 2141.8 L2125.7 2145 L2124.7 2148 L2123.1 2150.6 L2121 2152.5 L2118.5 2153.8 L2115.9 2154.2 L2113.3 2153.8 L2110.8 2152.5 L2108.7 2150.6 L2107.1 2148 L2106.1 2145 L2105.7 2141.8 L2106.1 2138.5 L2107.1 2135.5 L2108.7 2133 L2110.8 2131 L2113.3 2129.8 L2115.9 2129.3 L2118.5 2129.8 L2121 2131 L2123.1 2133 L2124.7 2135.5 L2125.7 2138.5Z" fill="#A5F28D"/>
<path d="M860 1380 L841.3 1414.3 L844.6 1421.8 L849.5 1438.1 L854.3 1457.6 L857.6 1480.4 L859.2 1499.9 L857 1519.5 L851.1 1542.2 L841.3 1561.8 L826.7 1581.3 L808.8 1597.6 L786 1613.9 L773 1620 L753.4 1626.5 L730.7 1629.8 L707.9 1627.2 L688.3 1620 L672.1 1607.3 L649.3 1591.1 L623.2 1571.5 L597.2 1552 L577.7 1534.1 L560 1500 L560 1380Z" fill="#64B6F8"/>
<path d="M600 1790 L646 1818.6 L662.3 1820.2 L688.3 1828.3 L720.9 1841.4 L753.4 1854.4 L786 1867.4 L818.5 1883.7 L851.1 1899.9 L883.6 1913 L916.2 1926 L948.8 1939 L981.3 1955.3 L1007.3 1974.8 L1026.9 1997.6 L1039.9 2020.4 L1052.9 2039.9 L1065.9 2059.5 L1079 2079 L1092 2101.8 L1101.7 2124.6 L1105 2147.3 L1103.4 2160 L1098.5 2169.8 L1085.5 2189.3 L1065.9 2208.8 L1039.9 2221.8 L1013.9 2226.7 L987.8 2223.5 L965 2212.1 L945.5 2195.8 L929.2 2176.3 L916.2 2160 L899.9 2140.8 L880.4 2121.3 L857.6 2101.8 L831.6 2085.5 L805.5 2074.1 L782.7 2069.2 L759.9 2070.8 L743.7 2079 L700 2100 L500 2100 L500 1790Z" fill="#64B6F8"/>
<path d="M1232.6 2160 L1235.8 2140.8 L1248.8 2114.8 L1265.1 2088.8 L1287.9 2066 L1313.9 2049.7 L1340 2036.7 L1362.8 2020.4 L1382.3 2004.1 L1395.3 1987.8 L1403.5 1971.6 L1403.5 1958.5 L1392.1 1945.5 L1375.8 1935.8 L1356.2 1930.9 L1336.7 1932.5 L1317.2 1942.3 L1304.2 1955.3 L1291.1 1969.9 L1271.6 1978.1 L1252.1 1974.8 L1235.8 1961.8 L1224.4 1942.3 L1219.5 1919.5 L1219.5 1896.7 L1226 1867.4 L1239.1 1838.1 L1258.6 1808.8 L1284.6 1779.5 L1310.7 1760 L1336.7 1750.2 L1362.8 1748.6 L1388.8 1751.8 L1414.8 1760 L1440.9 1769.7 L1466.9 1782.8 L1493 1797.4 L1519 1816.9 L1538.5 1834.8 L1546.7 1854.4 L1545.1 1873.9 L1535.3 1890.2 L1519 1903.2 L1499.5 1914.6 L1476.7 1929.2 L1457.2 1942.3 L1440.9 1955.3 L1431.1 1969.9 L1437.6 1991.1 L1447.4 2010.6 L1460.4 2030.2 L1476.7 2046.4 L1499.5 2056.2 L1525.5 2054.6 L1545.1 2043.2 L1564.6 2026.9 L1580.9 2007.4 L1593.9 1987.8 L1606.9 1965.1 L1616.7 1942.3 L1623.2 1919.5 L1632.9 1903.2 L1655.7 1890.2 L1681.8 1877.2 L1701.3 1860.9 L1720.8 1844.6 L1740.4 1828.3 L1759.9 1813.7 L1782.7 1800.7 L1805.5 1789.3 L1831.5 1777.9 L1857.6 1769.7 L1883.6 1763.2 L1900 1757 L1913.6 1760.4 L1929.4 1768.3 L1945.2 1779.6 L1958.8 1793.2 L1972.3 1809 L1985.9 1824.8 L1999.5 1838.4 L2015.3 1849.7 L2031.1 1858.7 L2046.9 1867.8 L2062.7 1879.1 L2078.6 1888.1 L2092.1 1897.1 L2103.4 1906.2 L2114.7 1915 L2147.9 1922.7 L2173.9 1935.8 L2196.7 1945.5 L2213 1948.8 L2226 1943.9 L2235.8 1932.5 L2245.5 1913 L2261.8 1899.9 L2281.3 1890.2 L2300.9 1886.3 L2315.5 1884.3 L2370 1880 L2370 1985 L2312 1995 L2312 2040 L2300.9 2043.2 L2287.8 2056.2 L2274.8 2072.5 L2258.5 2088.8 L2242.3 2100.1 L2226 2101.1 L2200 2090.9 L2181.5 2085.3 L2163.4 2080.7 L2143 2079.6 L2122.7 2080.7 L2104.6 2084.1 L2088.8 2090.9 L2077.5 2099.9 L2066.2 2111.2 L2054.9 2122.5 L2043.6 2129.3 L2025.5 2132.7 L2000.6 2135 L1975.8 2136.1 L1955.4 2138.4 L1941.9 2142.9 L1932.8 2151.9 L1921.5 2161 L1908 2165.5 L1887.6 2166.6 L1867.3 2165.5 L1846.9 2167.8 L1826.6 2174.5 L1808.5 2183.6 L1785.9 2194.9 L1763.3 2206.2 L1740.7 2215 L1737.1 2215.3 L1704.6 2223.5 L1672 2228.4 L1639.5 2228.4 L1606.9 2223.5 L1574.3 2217 L1541.8 2210.5 L1509.2 2205.6 L1476.7 2199.1 L1444.1 2192.6 L1411.6 2189.3 L1379 2190.9 L1346.5 2197.4 L1313.9 2200.7 L1281.4 2195.8 L1255.3 2186 L1239.1 2173Z" fill="#64B6F8"/>
<path d="M700 2400 L743.7 2374.8 L773 2378.1 L802.3 2384.6 L828.3 2394.4 L854.3 2407.4 L880.4 2423.7 L906.4 2439.9 L932.5 2459.5 L952 2475.8 L968.3 2498.5 L978.5 2526 L981.8 2558.6 L980.2 2587.9 L972 2613.9 L959 2636.7 L942.7 2656.2 L923.2 2670.9 L900.4 2680.7 L874.4 2685.5 L848.3 2682.3 L822.3 2677.4 L806 2672.5 L700 2700Z" fill="#64B6F8"/>
<path d="M2226 2147 L2227.6 2182.8 L2235.8 2199.1 L2252 2207.2 L2268.3 2200.7 L2278.1 2182.8 L2276.4 2147Z" fill="#64B6F8"/>
<path d="M2278.1 2166.5 L2277.2 2174.1 L2274.6 2181.2 L2270.4 2187.2 L2265.1 2191.9 L2258.8 2194.8 L2252 2195.8 L2245.3 2194.8 L2239 2191.9 L2233.6 2187.2 L2229.5 2181.2 L2226.9 2174.1 L2226 2166.5 L2226.9 2158.9 L2229.5 2151.9 L2233.6 2145.8 L2239 2141.1 L2245.3 2138.2 L2252 2137.2 L2258.8 2138.2 L2265.1 2141.1 L2270.4 2145.8 L2274.6 2151.9 L2277.2 2158.9Z" fill="#64B6F8"/>
<path d="M1712 1956.4 L1711.5 1957.9 L1710.3 1958.8 L1708.7 1958.8 L1707.5 1957.9 L1707 1956.4 L1707.5 1954.9 L1708.7 1954 L1710.3 1954 L1711.5 1954.9Z" fill="#3CB800"/>
<path d="M1934.1 2123 L1933.4 2125.1 L1931.6 2126.3 L1929.5 2126.3 L1927.7 2125.1 L1927.1 2123 L1927.7 2120.9 L1929.5 2119.7 L1931.6 2119.7 L1933.4 2120.9Z" fill="#3CB800"/>
<path d="M1783.6 1898.8 L1790.4 1882.9 L1801.7 1872.8 L1817.5 1867.6 L1833.4 1868.3 L1846.9 1873.9 L1858.2 1882.9 L1867.3 1892 L1876.3 1903.3 L1887.6 1912.3 L1898.9 1918 L1908 1923.6 L1917 1932.7 L1926 1941.7 L1935.1 1950.8 L1944.1 1957.5 L1955.4 1960.9 L1966.7 1957.5 L1975.8 1948.5 L1980.3 1934.9 L1980.3 1923.6 L1984.8 1915.7 L1996.1 1914.1 L2007.4 1918 L2021 1927 L2034.5 1934.9 L2050.4 1941.7 L2066.2 1946.2 L2084.3 1951.9 L2100.1 1959.8 L2113.7 1968.8 L2122.7 1977.9 L2123.8 1989.2 L2118.2 1998.2 L2106.9 2003.9 L2093.3 2004.6 L2079.7 2000.5 L2066.2 1993.7 L2057.1 1985.8 L2048.1 1981.3 L2039.1 1983.5 L2032.3 1991.4 L2027.8 2000.5 L2021 2008.4 L2009.7 2013.6 L1996.1 2015.2 L1984.8 2018.6 L1973.5 2025.4 L1962.2 2034.4 L1950.9 2044.6 L1941.9 2053.6 L1935.1 2062.6 L1930.6 2072.8 L1923.8 2084.1 L1914.7 2095.4 L1903.4 2105.6 L1892.1 2114.6 L1878.6 2122.5 L1862.7 2128.2 L1846.9 2128.2 L1828.8 2125.9 L1810.8 2120.3 L1794.9 2112.4 L1781.4 2102.2 L1773.5 2088.6 L1771.2 2075.1 L1772.3 2061.5 L1770.1 2050.2 L1763.3 2042.3 L1752 2036.7 L1740.7 2032.1 L1733.9 2025.4 L1732.8 2016.3 L1736.2 2005 L1742.9 1993.7 L1752 1985.8 L1763.3 1981.3 L1774.6 1982.4 L1785.9 1985.8 L1797.2 1984.7 L1804 1975.6 L1801.7 1964.3 L1794.9 1950.8 L1789.3 1937.2 L1784.8 1921.4 L1782.5 1907.8Z" fill="#0000F6"/>
<path d="M1935 1985.1 L1936.1 1988.4 L1936.4 1991.9 L1935.8 1995.3 L1934.4 1998.3 L1932.2 2000.8 L1929.5 2002.6 L1926.4 2003.5 L1923.1 2003.6 L1919.9 2002.7 L1916.9 2001 L1914.4 1998.6 L1912.5 1995.6 L1911.4 1992.2 L1911.2 1988.7 L1911.8 1985.3 L1913.2 1982.3 L1915.3 1979.8 L1918 1978 L1921.2 1977.1 L1924.4 1977 L1927.7 1977.9 L1930.7 1979.6 L1933.2 1982.1Z" fill="#64B6F8"/>
<path d="M1939.6 2095.4 L1943 2088.6 L1953.2 2087.5 L1962.2 2092 L1963.3 2102.2 L1957.7 2110.1 L1948.6 2107.9 L1941.9 2102.2Z" fill="#0000F6"/>
<path d="M1681.1 2102 L1682.2 2109.2 L1681.1 2116.8 L1677.8 2124.6 L1672.4 2132.3 L1665.2 2139.5 L1656.4 2145.9 L1646.3 2151.4 L1635.4 2155.7 L1624.1 2158.6 L1612.7 2160.1 L1601.8 2160.1 L1591.7 2158.5 L1582.9 2155.5 L1575.7 2151.1 L1570.3 2145.5 L1566.9 2139 L1565.8 2131.8 L1566.9 2124.2 L1570.2 2116.4 L1575.6 2108.7 L1582.8 2101.5 L1591.6 2095.1 L1601.7 2089.6 L1612.6 2085.3 L1623.9 2082.4 L1635.3 2080.9 L1646.2 2080.9 L1656.3 2082.5 L1665.1 2085.5 L1672.3 2089.9 L1677.7 2095.5Z" fill="#0000F6"/>
<path d="M762.4 1530.8 L761.7 1536.7 L759.5 1542.2 L756 1546.9 L751.4 1550.5 L746.1 1552.8 L740.4 1553.6 L734.7 1552.8 L729.4 1550.5 L724.8 1546.9 L721.3 1542.2 L719.1 1536.7 L718.4 1530.8 L719.1 1524.9 L721.3 1519.4 L724.8 1514.7 L729.4 1511.1 L734.7 1508.8 L740.4 1508 L746.1 1508.8 L751.4 1511.1 L756 1514.7 L759.5 1519.4 L761.7 1524.9Z" fill="#0000F6"/>
</g>
<path d="M1224.4 670.4 L1232.6 674.3 L1250.5 695.8 L1253.1 690.6 L1258.6 694.2 L1270 692.5 L1287.2 684.1 L1281.4 678.5 L1297.7 663.9 L1307.4 660.6 L1320.4 667.1 L1341.6 666.5 L1353 670.4 L1367.6 676.9 L1388.8 672 L1405.1 673.6 L1405.7 668.8 L1414.8 667.8 L1427.9 657.4 L1447.4 649.2 L1470.2 639.5 L1486.5 630.7 L1506 628.1 L1528.8 620.9 L1554.8 615.7 L1571.1 605.3 L1572.7 599.4 L1590.6 595.5 L1629.7 593.9 L1637.2 585.8 L1626.4 580.9 L1585.7 565.6 L1577.6 568.5 L1559.7 559.7 L1558.1 549.9 L1569.5 530.4 L1577.6 515.8 L1583.5 510.9 L1580.9 468.6 L1577.6 458.8 L1589 442.5 L1597.1 439.3 L1613.4 421.4 L1623.2 419.7 L1644.3 405.1 L1654.1 385.6 L1662.2 379 L1681.8 364.4 L1698 360.5 L1733.9 356.3 L1769.7 351.4 L1782.7 347.5 L1818.5 343.2 L1852.7 336.7 L1854.3 333.5 L1883.6 325.3 L1893.4 317.2 L1903.1 314.9 L1920.1 315.6 L1939.5 302.6 L1962.3 298.6 L1977 296 L1990 302.6 L2006.3 318.8 L2014.4 321.4 L2029 320.5 L2050.2 333.5 L2060.6 340 L2055.1 343.2 L2073 344.9 L2094.2 341.6 L2095.8 348.1 L2100.7 348.8 L2100 357.9 L2106.5 372.5 L2089.3 379 L2079.5 386.2 L2087.6 401.8 L2095.8 413.2 L2115.3 423 L2131.6 431.1 L2144.6 439.3 L2157 453.9 L2152.7 461.4 L2138.1 463.7 L2132.2 473.5 L2136.5 483.2 L2152.7 486.5 L2153.7 493 L2151.1 504.4 L2133.2 512.5 L2128.3 522.3 L2136.5 530.4 L2147.9 533 L2157 539.5 L2133.2 558.1 L2134.8 564.6 L2144.6 567.9 L2143 574.4 L2151.1 582.5 L2159.9 590.6 L2141.4 599.4 L2143 613.4 L2146.2 628.1 L2154.4 639.5 L2144.6 649.2 L2158.6 664.5 L2151.1 669.7 L2138.1 667.1 L2123.5 671 L2122.5 676.9 L2133.2 685 L2134.2 689.9 L2125.7 693.2 L2121.8 702.9 L2115.3 716 L2097.4 730.6 L2098.4 737.1 L2110.4 745.3 L2115.3 755 L2128.3 760.9 L2125.1 772.9 L2110.4 777.8 L2109.5 784.3 L2111.5 780 L2127.8 786.5 L2137.6 794.6 L2136 799.5 L2124.6 802.8 L2134.3 809.3 L2142.5 820.7 L2153.9 815.8 L2160.4 802.8 L2170.1 797.9 L2188 804.4 L2188 822.3 L2179.9 832.1 L2188 843.5 L2205.9 856.5 L2209.8 856.5 L2232.6 864.6 L2242.3 870.5 L2239.1 880.9 L2245.6 893.9 L2253.7 903 L2276.5 904.7 L2285.3 904.3 L2294.4 912.8 L2278.1 920 L2278.1 926.5 L2283 936.2 L2304.2 937.2 L2312.3 946 L2323.7 949.3 L2331.8 958.4 L2327 966.2 L2333.5 972.1 L2343.2 967.2 L2351.4 963.9 L2370.9 972.1 L2371.5 979.2 L2362.8 985.1 L2349.7 986.7 L2330.2 993.2 L2304.2 1004.6 L2266.7 1032.3 L2258.6 1024.1 L2232.6 1018.3 L2242.3 1007.9 L2232.6 1004.6 L2242.3 991.6 L2243.9 976.9 L2219.5 974.3 L2200 978.6 L2186.4 988.3 L2173.4 998.1 L2170.1 1007.9 L2176.6 1009.5 L2173.4 1020.9 L2166.9 1033.3 L2132.7 1030 L2129.4 1040.4 L2113.2 1037.2 L2106.7 1047.6 L2098.5 1045.3 L2088.8 1056.7 L2074.1 1058.3 L2061.1 1070.4 L2052.9 1066.5 L2046.4 1063.9 L2041.5 1066.5 L2039.9 1074.6 L2031.8 1076.9 L2032.3 1080 L2024.2 1089.8 L2011.1 1094.6 L1985.1 1094.6 L1975.3 1102.8 L1977 1109.3 L1965.6 1114.2 L1952.6 1125.6 L1950.9 1135.3 L1955.8 1140.2 L1963.9 1141.8 L1965.6 1150 L1985.1 1163 L1988.4 1172.8 L1980.2 1174.4 L1977 1185.8 L1981.8 1189 L1972.1 1197.2 L1973.7 1203.7 L1967.2 1210.2 L1990 1223.2 L1996.5 1234.6 L2014.4 1236.2 L2022.5 1247.6 L2033.9 1252.5 L2045.3 1260.7 L2047 1267.2 L2054.4 1268.2 L2052.8 1291.6 L2043.7 1311.1 L2030.7 1330.7 L2014.4 1351.8 L2004.6 1359.9 L1986.7 1369.7 L1973.7 1386 L1972.1 1390.9 L1981.8 1413.7 L1967.2 1418.5 L1963.9 1431.6 L1952.6 1443 L1945.4 1451.1 L1949.3 1459.2 L1955.8 1459.2 L1955.8 1465.7 L1964.9 1469 L1963.9 1475.5 L1972.1 1477.8 L1994.9 1483.6 L2017.7 1472.3 L2032.3 1469.6 L2043.7 1473.9 L2056.7 1480.4 L2069.7 1493.4 L2071.4 1506.4 L2069.1 1521.1 L2073 1532.5 L2089.3 1538.3 L2095.8 1542.2 L2115.3 1552 L2141.4 1560.1 L2164.1 1571.5 L2180.4 1576.4 L2193.4 1586.2 L2198.3 1596 L2219.5 1599.2 L2248.8 1604.1 L2265.1 1600.8 L2284.6 1604.1 L2296 1610.6 L2304.1 1620 L2304.1 1620 L2325.3 1632.4 L2343.2 1644.4 L2356.2 1649.3 L2364.3 1662.3 L2374.1 1672.1 L2383.9 1670.5 L2408.3 1681.8 L2414.8 1663.9 L2422.9 1652.6 L2440.8 1657.4 L2447.3 1668.8 L2440.8 1688.4 L2447.3 1694.9 L2442.5 1706.3 L2421.3 1704.6 L2395.3 1704 L2382.2 1711.1 L2377.4 1724.2 L2379 1733.9 L2392 1737.2 L2411.5 1748.6 L2414.8 1753.5 L2406.7 1766.5 L2388.8 1776.2 L2366 1782.8 L2338.3 1784.4 L2328.5 1792.5 L2335 1800.7 L2323.6 1813.7 L2335 1831.6 L2335 1843 L2348.1 1844 L2343.2 1849.5 L2336.7 1854.4 L2330.2 1872.3 L2326.9 1880.4 L2313.9 1883 L2323.6 1896.7 L2349.7 1914.6 L2339.9 1929.2 L2326.9 1940.6 L2310.6 1948.8 L2294.3 1955.3 L2273.2 1961.8 L2255.3 1968.3 L2265.1 1978.1 L2261.8 1984.6 L2269.9 1996 L2258.5 2007.4 L2242.3 2015.5 L2248.8 2031.8 L2278.1 2035 L2281.3 2041.5 L2300.9 2043.2 L2315.5 2046.4 L2339.9 2043.2 L2356.2 2035 L2366 2018.8 L2374.1 2018.8 L2382.2 2013.9 L2398.5 2017.1 L2405 2030.2 L2400.1 2043.2 L2388.8 2049.7 L2408.3 2057.8 L2411.5 2069.2 L2414.8 2088.8 L2422.9 2098.5 L2426.2 2114.8 L2431.1 2126.2 L2444.1 2134.3 L2440.8 2150.6 L2437.6 2160 L2426.2 2161.6 L2416.4 2168.1 L2414.8 2176.3 L2422.9 2179.5 L2408.3 2194.2 L2406.7 2203.9 L2396.9 2210.5 L2385.5 2212.1 L2379 2225.1 L2364.3 2230 L2359.5 2238.1 L2366 2243 L2366 2252.8 L2374.1 2262.5 L2383.9 2264.2 L2388.8 2275.6 L2405 2279.8 L2417.1 2291.2 L2398.5 2304.9 L2374.1 2308.1 L2356.2 2319.5 L2326.9 2329.3 L2320.4 2335.8 L2325.3 2348.8 L2338.3 2356.9 L2330.2 2365.1 L2343.2 2368.3 L2351.3 2378.1 L2355.5 2389.5 L2346.4 2402.5 L2326.9 2404.1 L2309 2412.3 L2294.3 2405.8 L2292.7 2399.3 L2281.3 2391.1 L2269.9 2400.2 L2258.5 2394.4 L2256.9 2387.9 L2235.8 2386.2 L2216.2 2400.9 L2200 2397.8 L2192.8 2395.6 L2190.5 2401.2 L2175.8 2405.7 L2172.4 2419.3 L2161.1 2423.8 L2149.8 2430.6 L2138.5 2435.1 L2129.5 2431.7 L2113.7 2438.5 L2097.8 2445.3 L2082 2449.8 L2079.7 2453.2 L2070.7 2448.7 L2066.2 2443 L2052.6 2439.6 L2045.8 2447.5 L2037.9 2454.3 L2032.3 2449.8 L2016.5 2450.9 L2011.9 2453.9 L2000.6 2458.8 L1991.6 2470.1 L1984.8 2476.9 L1971.2 2478.1 L1957.7 2473.5 L1948.6 2467.9 L1932.8 2465.6 L1926 2461.1 L1918.1 2456.6 L1911.3 2448.7 L1905.7 2449.8 L1908 2445.3 L1900 2443 L1897.8 2437.4 L1893.3 2435.1 L1892.1 2429.5 L1880.8 2430.6 L1875.2 2432.8 L1868.4 2429.5 L1862.7 2432.8 L1858.2 2427.2 L1844.7 2420.4 L1826.6 2413.6 L1799.5 2409.1 L1788.2 2408 L1779.1 2414.8 L1772.3 2415.9 L1761 2404.6 L1756.5 2397.8 L1739.6 2395.6 L1738.4 2388.8 L1731.6 2391 L1713.6 2384.2 L1710.2 2375.2 L1700 2374.1 L1678.5 2371.6 L1665.5 2374.8 L1650.8 2371.6 L1649.2 2358.6 L1636.2 2348.8 L1623.2 2338.4 L1611.8 2337.4 L1595.5 2345.5 L1587.4 2350.4 L1590.6 2359.2 L1584.1 2355.3 L1558.1 2363.5 L1545.1 2370 L1541.8 2374.8 L1523.9 2374.2 L1520.6 2377.4 L1509.2 2376.5 L1501.1 2368.3 L1504.4 2361.8 L1502.7 2352.1 L1478.3 2345.5 L1484.8 2329.3 L1481.6 2309.7 L1483.2 2306.5 L1483.2 2278.8 L1463.7 2290.2 L1453.9 2298.3 L1444.1 2309.7 L1445.8 2316.2 L1440.9 2322.8 L1439.3 2334.2 L1433.7 2338.4 L1436 2345.5 L1421.4 2352.1 L1395.3 2356.9 L1385.5 2370 L1377.4 2381.4 L1369.3 2394.4 L1366 2407.4 L1353 2418.8 L1340 2419.8 L1327 2408 L1313.9 2407.4 L1294.4 2410.7 L1283 2413.3 L1274.9 2420.4 L1266.7 2432.8 L1281.4 2436.7 L1284.6 2429.5 L1299.3 2433.4 L1297.7 2441.6 L1291.1 2451.3 L1283 2459.5 L1271.6 2456.2 L1270 2469.2 L1255.3 2466 L1240.7 2459.5 L1248.8 2449.7 L1242.3 2451.3 L1234.2 2464.4 L1232.6 2469.2 L1237.4 2472.5 L1240.7 2487.1 L1232.6 2498.5 L1216.3 2488.8 L1211.4 2490.4 L1222.8 2498.5 L1204.9 2518.1 L1224.4 2523 L1216.3 2531.1 L1200 2539.2 L1206.4 2539.1 L1182 2540.7 L1167.3 2539.1 L1164.1 2534.2 L1154.3 2542.3 L1146.2 2545.6 L1138 2530.9 L1125 2535.8 L1116.9 2542.3 L1120.1 2548.8 L1118.5 2573.2 L1108.8 2584.6 L1103.9 2594.4 L1086 2596 L1069.7 2600.9 L1051.8 2602.5 L1043.6 2609 L1019.2 2613.9 L1009.5 2620.4 L1006.2 2613.9 L999.7 2610.7 L986.7 2625.3 L978.5 2630.2 L975.3 2636.7 L975.9 2661.1 L965.5 2662.8 L955.8 2672.5 L944.4 2670.9 L934.6 2675.8 L942.7 2682.3 L936.2 2688.8 L923.2 2692.1 L910.2 2701.8 L908.6 2708.3 L916 2716.5 L916.7 2727.9 L903.7 2736 L900.4 2747.4 L877.6 2757.2 L874.4 2766.9 L864.6 2779.9 L864 2799.5 L866.2 2809.2 L856.5 2823.9 L843.5 2827.1 L835.3 2823.9 L822.3 2828.8 L817.4 2836.9 L802.8 2841.8 L794.6 2835.3 L789.7 2825.5 L793 2822.3 L789.7 2815.8 L793 2807.6 L784.9 2806 L783.2 2794.6 L773.5 2782.6 L763.7 2776.7 L744.2 2779.3 L716.5 2780.6 L708.4 2775.1 L706.7 2768.6 L721.4 2750.7 L734.4 2734.4 L747.4 2724.6 L760.4 2716.5 L765.3 2711.6 L755.6 2708.3 L758.8 2700.2 L780 2701.8 L783.2 2695.3 L775.1 2688.8 L776.7 2679 L802.8 2677.4 L812.5 2662.8 L828.8 2646.5 L850 2628.6 L840.2 2622.1 L830.4 2610.7 L832.1 2597.7 L838.6 2581.4 L840.2 2570 L828.8 2563.5 L817.4 2555.3 L815.8 2542.3 L836.9 2530.9 L835.3 2524.4 L831.6 2511.6 L818.5 2498.5 L808.8 2477.4 L815.3 2464.4 L805.5 2456.2 L812 2448.1 L803.9 2439.9 L815.3 2433.4 L823.4 2425.3 L816.9 2417.2 L820.2 2404.1 L808.8 2398.3 L779.5 2409 L771.3 2407.4 L771.3 2391.1 L763.2 2379.7 L737.2 2373.2 L720.9 2360.2 L707.9 2356.9 L675.3 2363.5 L642.8 2374.8 L624.9 2355.3 L634.6 2347.2 L623.2 2339 L631.4 2329.3 L623.2 2322.8 L608.6 2326 L603 2316.2 L618.3 2303.2 L611.8 2291.8 L616.7 2290.2 L615.1 2283.7 L626.5 2272.3 L624.9 2267.4 L634.6 2251.1 L654.2 2247.9 L658.4 2226.7 L670.4 2212.1 L655.8 2207.2 L658.4 2182.8 L678.6 2192.6 L704.6 2177.9 L701.4 2160 L701.4 2160 L704.6 2153.9 L714.4 2140.8 L733.9 2134.3 L735.5 2118 L730.7 2108.3 L733.9 2088.8 L743.7 2079 L763.2 2072.5 L773 2067.6 L766.5 2059.5 L722.5 2059.5 L714.4 2052.9 L719.3 2046.4 L717.6 2035 L709.5 2030.8 L704.6 2038.3 L693.2 2035 L696.5 2026.9 L691.6 2013.9 L683.5 2010.6 L675.3 2004.1 L659 1997.6 L657.4 1989.5 L649.3 1986.2 L642.8 1981.3 L639.5 1974.8 L629.7 1978.1 L623.2 1973.2 L597.2 1965.1 L592.3 1958.5 L577.7 1953.7 L576 1932.5 L574.4 1919.5 L569.5 1899.9 L558.1 1891.8 L553.2 1880.4 L556.5 1873.3 L587.4 1867.4 L620 1869 L660.7 1852.7 L655.8 1841.4 L657.4 1825.1 L644.4 1823.5 L642.8 1812.1 L634.6 1795.8 L636.2 1782.8 L628.1 1756.7 L629.7 1737.2 L623.2 1724.2 L613.5 1706.3 L592.3 1693.2 L590.7 1683.5 L577.7 1675.3 L577.7 1662.3 L564.6 1652.6 L558.1 1633 L548.4 1620 L548.4 1620 L558.1 1609 L535.3 1604.1 L553.2 1597.6 L553.2 1591.1 L545.1 1587.8 L556.5 1578 L561.4 1568.3 L558.1 1565 L537 1563.4 L528.8 1558.5 L526.2 1544.5 L538.6 1543.9 L553.2 1537.4 L541.8 1535.7 L550 1528.6 L558.1 1529.2 L577.7 1534.1 L610.2 1521.1 L639.5 1509.7 L662.3 1499.9 L688.3 1488.5 L720.9 1475.5 L724.1 1470.6 L763.2 1454.3 L790.9 1443.9 L792.5 1434.8 L787.6 1433.2 L786 1418.5 L820.2 1415.3 L825.1 1410.4 L834.8 1416.9 L847.8 1412 L870.6 1402.3 L890.2 1394.1 L903.2 1386 L912.9 1377.9 L929.2 1368.1 L942.2 1359.9 L956.9 1350.2 L958.5 1343 L976.4 1338.8 L994.3 1333.9 L1013.9 1327.4 L1030.1 1319.3 L1052.9 1307.9 L1065.9 1294.8 L1085.5 1281.8 L1114.8 1268.8 L1131 1262.3 L1157.1 1258.4 L1179.9 1257.4 L1191.9 1252.5 L1186.4 1244.4 L1178.2 1228.1 L1163.6 1228.1 L1152.2 1220 L1160.3 1199.8 L1147.3 1192.3 L1139.2 1187.4 L1132.7 1176 L1113.1 1184.2 L1093.6 1177.7 L1088.7 1172.8 L1072.4 1159.8 L1075.7 1152.3 L1083.8 1153.2 L1082.2 1145.1 L1092 1140.2 L1086.1 1132.1 L1082.2 1112.6 L1080.6 1093 L1075.7 1080 L1072.5 1080 L1077.4 1070.6 L1083.9 1065.7 L1082.3 1060.8 L1095.3 1049.4 L1127.9 1044.6 L1157.2 1040.7 L1183.2 1042.9 L1196.2 1038 L1201.1 1020.1 L1208.6 1016.9 L1207.6 1008.8 L1212.5 999 L1232 987.6 L1245.1 981.1 L1266.2 976.2 L1271.1 969.7 L1279.2 961.5 L1287.4 956.7 L1279.2 946.9 L1263 942 L1245.1 933.9 L1227.1 925.7 L1225.5 919.2 L1217.4 914.3 L1225.5 907.8 L1225.5 903 L1217.4 899.7 L1199.5 894.8 L1188.1 889 L1170.2 893.2 L1157.2 897.1 L1155.5 893.2 L1150 894.8 L1140.9 881.8 L1124.6 872 L1106.7 860.6 L1101.8 849.2 L1106.7 842.7 L1069.3 836.9 L1036.7 837.9 L1035.1 819.9 L1017.8 810.2 L1007.4 800.4 L987.9 797.2 L975.5 784.1 L979.8 780.9 L981.4 771.1 L1007.4 756.5 L1020.4 751.6 L1040 738.6 L1059.5 743.5 L1077.4 745.1 L1095.3 748.3 L1108.3 745.1 L1114.8 741.8 L1127.9 735.3 L1139.3 725.5 L1147.4 717.4 L1152.3 709.3 L1162 706.7 L1163.7 699.5 L1155.5 696.2 L1157.2 686.5 L1168.6 673.5 L1201.1 671.8Z" fill="none" stroke="#000" stroke-width="1" stroke-linejoin="round"/>
<g fill="none" stroke="#000" stroke-width="0.8" stroke-linejoin="round">
<path d="M1279.2 946.9 L1285.7 945.3 L1290.6 948.5 L1300.4 946.9 L1315 952.8 L1321.5 948.5 L1334.6 956.7 L1342.7 953.4 L1357.4 957.6 L1368.8 944.3 L1381.8 947.6 L1394.8 951.8 L1402.9 959.9 L1407.8 971.3 L1404.6 984.3 L1414.3 987.6 L1424.1 986 L1437.1 994.1 L1453.4 997.4 L1466.4 1008.8 L1476.2 1013.6 L1485.9 1020.1 L1497.3 1015.9 L1507.1 1012 L1508.7 1002.2 L1531.5 998.3 L1547.8 999 L1567.3 995.7 L1596.6 999 L1606.4 1008.8 L1614.5 1020.1 L1620.1 1021.8 L1629.8 1014.4 L1649.3 994.8 L1662.3 978.6 L1691.6 954.2 L1724.2 950.9 L1750.2 931.4 L1789.3 907 L1792.5 898.8 L1808.8 879.3 L1820.2 875.4 L1834.8 884.2 L1857.6 892.3 L1880.4 885.8 L1906.5 879.3 L1945.5 885.8 L1973.2 879.3 L2004.1 866.3 L2038.3 855.5 L2075.7 852.3 L2113.2 846.1 L2134.3 860.7 L2144.1 858.1 L2144.1 850 L2150.6 846.7 L2152.2 838.6 L2179.9 832.1"/>
<path d="M1113.2 753.2 L1124.6 751.6 L1126.2 759.7 L1114.8 758.8 L1113.2 753.2"/>
<path d="M976.4 1338.8 L978 1345.3 L984.6 1348.6 L973.2 1356.7 L987.8 1359.9 L982.9 1368.1 L994.3 1371.3 L1004.1 1381.1 L1022 1386.6 L1043.2 1369.7 L1054.5 1363.9 L1069.2 1362.6 L1069.8 1371.3 L1092 1376.2 L1119.6 1381.1 L1144.1 1374.6 L1163.6 1378.8 L1184.8 1360.6 L1200.1 1363.2 L1214.6 1368.1 L1221.2 1363.2 L1235.8 1369.1 L1243.9 1377.9 L1258.6 1379.5 L1281.4 1382.1 L1300.9 1374.6 L1323.7 1373 L1343.2 1379.5 L1369.3 1384.4 L1382.3 1389.2 L1401.8 1389.2 L1414.8 1382.7 L1434.4 1374.6 L1450.7 1369.7 L1463.7 1361.6 L1483.2 1361.6 L1512.5 1366.5 L1525.5 1376.2 L1538.5 1386 L1545.1 1392.5 L1564.6 1408.8 L1580.9 1423.4 L1600.4 1420.2 L1619.9 1416.9 L1636.2 1428.3 L1655.7 1443 L1668.8 1451.1 L1678.5 1470.6 L1678.5 1483.6 L1683.4 1490.2 L1681.8 1503.2 L1694.8 1509 L1717.6 1514.6 L1724.1 1503.2 L1740.4 1498.3 L1750.1 1503.2 L1746.9 1516.2 L1753.4 1526 L1772.9 1527.6 L1795.7 1534.1 L1818.5 1535.7 L1851 1532.5 L1867.3 1529.2 L1886.8 1526 L1890.1 1506.4 L1903.1 1499.9 L1906.4 1509.7 L1920.1 1511.3 L1934.6 1498.3 L1949.3 1501.5 L1962.3 1486.9 L1972.1 1477.8"/>
<path d="M1795.7 1534.1 L1782.7 1548.8 L1772.9 1552 L1766.4 1560.1 L1772.9 1566.7 L1763.2 1574.8 L1753.4 1587.8 L1740.4 1604.1 L1730.6 1620 L1714.3 1620 L1702.9 1633 L1688.3 1644.4 L1670.4 1662.3 L1649.2 1668.8 L1632.9 1683.5 L1623.2 1698.1 L1616.7 1704.6 L1582.5 1714.4 L1579.2 1722.5 L1567.8 1733.9 L1571.1 1740.4 L1561.3 1747 L1540.2 1748.6 L1533.7 1763.2 L1522.3 1766.5 L1520.6 1771.4 L1504.4 1773 L1506 1782.8 L1499.5 1790.9 L1486.5 1795.8 L1479.9 1790.9 L1479.9 1802.3 L1486.5 1808.8 L1483.2 1818.6 L1493 1828.3 L1506 1841.4 L1497.9 1847.9 L1494.6 1864.1 L1501.1 1875.5 L1517.4 1870.7 L1541.8 1888.6 L1525.5 1903.2 L1514.1 1899.9 L1512.5 1904.8 L1517.4 1909.7 L1504.4 1932.5 L1517.4 1943.9 L1538.5 1948.8 L1548.3 1971.6 L1546.7 1984.6 L1558.1 1994.3 L1563 2002.5 L1553.2 2018.8 L1545.1 2026.9 L1549.9 2035 L1543.4 2039.9 L1548.3 2061.1 L1558.1 2066 L1556.4 2075.7 L1545.1 2082.2 L1543.4 2095.3 L1549.9 2101.8 L1532 2108.3 L1525.5 2114.8 L1499.5 2116.4 L1483.2 2108.3 L1479.9 2100.1 L1460.4 2098.5 L1427.9 2101.8 L1395.3 2100.1 L1362.8 2103.4 L1359.5 2111.5 L1330.2 2108.3 L1317.2 2121.3 L1304.2 2137.6 L1265.1 2134.3 L1258.6 2121.3 L1248.8 2098.5 L1222.8 2092 L1209.8 2088.8 L1200 2083.9"/>
<path d="M773 2067.6 L786 2046.4 L794.1 2039.9 L802.3 2041.5 L808.8 2038.3 L810.4 2049.7 L825.1 2057.8 L828.3 2064.3 L841.3 2069.2 L859.2 2082.2 L867.4 2080.6 L880.4 2082.2 L890.2 2079 L891.8 2088.8 L903.2 2095.3 L909.7 2105 L919.5 2100.1 L924.3 2108.3 L929.2 2109.9 L927.6 2114.8 L935.7 2126.2 L945.5 2134.3 L948.8 2144.1 L961.8 2137.6 L978 2127.8 L994.3 2108.3 L1007.3 2098.5 L1012.2 2092 L1009 2082.2 L1013.9 2072.5 L1020.4 2070.8 L1026.9 2065.3 L1030.1 2070.8 L1049.7 2077.4 L1072.4 2082.2 L1098.5 2087.1 L1131 2092 L1163.6 2096.9 L1179.9 2092 L1183.1 2088.8 L1200.1 2090.4"/>
<path d="M1359.5 2111.5 L1362.8 2127.8 L1372.5 2153.9 L1356.2 2160 L1353 2166.5 L1307.4 2192.6 L1248.8 2228.4 L1219.5 2230 L1250.5 2241.4 L1209.8 2257.7 L1206.5 2296.7 L1204.9 2327.6 L1242.3 2335.8 L1292.8 2348.8 L1292.1 2410.7"/>
<path d="M1200 2236.5 L1219.5 2230"/>
<path d="M1483.2 2278.8 L1483.2 2269 L1476.7 2267.4 L1470.2 2256 L1475.1 2252.8 L1483.2 2260.9 L1491.3 2257 L1494.6 2247.9 L1499.5 2239.8 L1512.5 2233.2 L1528.8 2226.7 L1533.7 2220.2 L1532 2213.7 L1541.8 2208.8 L1553.2 2215.3 L1558.1 2223.5 L1564.6 2226.7 L1570.4 2223.5 L1569.5 2215.3 L1561.3 2210.5 L1571.1 2207.2 L1597.1 2202.3 L1595.5 2195.8 L1603.6 2190.9 L1606.9 2179.5 L1639.5 2169.8 L1647.6 2160"/>
<path d="M1714.3 1620 L1720.8 1646 L1717.6 1659.1 L1706.2 1675.3 L1701.3 1690 L1711.1 1694.9 L1720.8 1714.4 L1733.9 1727.4 L1750.1 1743.7 L1753.4 1753.5 L1772.9 1758.3 L1792.4 1768.1 L1795.7 1789.3 L1808.7 1795.8 L1838 1808.8 L1854.3 1815.3 L1851 1828.3 L1841.3 1838.1 L1844.5 1847.9 L1838 1860.9 L1864.1 1862.5 L1883.6 1864.1 L1920.1 1862.5"/>
<path d="M1548.3 2061.1 L1590.6 2049.7 L1613.4 2041.5 L1632.9 2035 L1652.5 2023.6 L1672 2018.8 L1698 2015.5 L1701.3 2026.9 L1704.6 2036.7 L1733.9 2043.2 L1759.9 2046.4"/>
<path d="M1837.9 1840 L1843.5 1844.5 L1839 1852.4 L1841.3 1861.5 L1858.2 1863.7 L1871.8 1862.6 L1887.6 1861.5 L1898.9 1864.9 L1910.2 1863.7 L1926 1867.1 L1944.1 1871.6 L1955.4 1869.4 L1971.2 1866 L1978 1873.9 L1989.3 1873.9 L2000.6 1862.6 L2004 1853.6 L2011.9 1852.4 L2021 1844.5 L2025.5 1840"/>
<path d="M1898.9 1864.9 L1898.9 1896.5 L1900 1914.6 L1901.2 1930.4 L1889.9 1937.2 L1892.1 1948.5 L1902.3 1953"/>
<path d="M2004 1853.6 L1993.9 1873.9 L1984.8 1898.8 L1980.3 1919.1 L1975.8 1941.7 L1971.2 1957.5 L1959.9 1973.4 L1948.6 1984.7 L1946.4 1998.2"/>
<path d="M2082 1853.6 L2088.8 1862.6 L2094.4 1873.9 L2082 1881.8 L2088.8 1892 L2096.7 1901 L2104.6 1912.3 L2109.1 1921.4 L2108 1934.9 L2113.7 1948.5 L2120.4 1966.6 L2122.7 1977.9"/>
<path d="M2097.8 1899.9 L2118.2 1903.3 L2147.6 1902.2 L2170.2 1896.5 L2181.5 1893.1 L2186 1898.8 L2200 1902.2"/>
<path d="M1700 2016.3 L1702.3 2027.6 L1706.8 2036.7 L1733.9 2038.9 L1763.3 2041.2 L1762.2 1986.9 L1763.3 1975.6 L1801.7 1963.2 L1815.3 1973.4 L1844.7 1984.7 L1878.6 1994.8 L1867.3 2018.6 L1856 2036.7 L1846.9 2057 L1844.7 2068.3"/>
<path d="M1813 1946.2 L1851.4 1934.9 L1862.7 1955.3 L1858.2 1962.1 L1819.8 1948.5 L1813 1946.2"/>
<path d="M1772.3 2049.1 L1794.9 2057 L1817.5 2062.6 L1844.7 2068.3 L1858.2 2072.8 L1880.8 2079.6 L1903.4 2081.9 L1926 2079.6 L1939.6 2077.3 L1971.2 2077.3 L2005.2 2077.3"/>
<path d="M1767.8 2054.7 L1745.2 2063.8 L1719.2 2070.6 L1733.9 2095.4 L1752 2129.3 L1729.4 2125.9 L1709 2127.1 L1706.8 2131.6 L1721.5 2145.2 L1723.7 2156.5 L1700 2163.2"/>
<path d="M1878.6 1994.8 L1892.1 1996 L1910.2 1989.2 L1926 1984.7 L1948.6 1975.6 L1966.7 1966.6"/>
<path d="M2052.6 1968.8 L2073 1962.1 L2097.8 1957.5"/>
<path d="M1966.7 2011.8 L1966.7 2020.8 L1982.5 2034.4 L1991.6 2032.1 L1991.6 2038.9 L1998.4 2040 L1998.4 2052.5"/>
<path d="M2039.1 1986.9 L2036.8 1998.2 L2041.3 2011.8 L2034.5 2023.1 L2027.8 2036.7 L2043.6 2043.4 L2052.6 2037.8 L2075.2 2029.9 L2097.8 2020.8 L2118.2 2005"/>
<path d="M2043.6 2043.4 L2039.1 2057 L2027.8 2070.6 L2005.2 2077.3"/>
<path d="M1844.7 2215 L1849.2 2201.7 L1862.7 2192.6 L1876.3 2179.1 L1880.8 2165.5 L1887.6 2156.5 L1896.7 2147.4 L1876.3 2144 L1853.7 2138.4 L1822.1 2133.9 L1819.8 2144 L1808.5 2147.4 L1804 2156.5 L1788.2 2158.7 L1767.8 2156.5 L1765.6 2149.7 L1774.6 2136.1 L1790.4 2120.3 L1806.2 2099.9 L1822.1 2086.4 L1844.7 2081.9 L1862.7 2079.6"/>
<path d="M1849.2 2104.5 L1851.4 2118 L1876.3 2118 L1892.1 2111.2 L1896.7 2114.6 L1903.4 2106.7 L1912.5 2097.7 L1926 2084.1 L1939.6 2077.3"/>
<path d="M2325 1631.5 L2285.4 1639.5 L2323.8 1654.2 L2314.8 1673.4 L2313.7 1698.2 L2315.9 1720.8 L2306.9 1736.7 L2287.7 1752.5 L2282 1761.5 L2288.8 1766 L2282 1770.6 L2284.3 1776.2 L2245.8 1796.6 L2227.8 1789.8 L2205.2 1797.7 L2189.3 1802.2 L2185.9 1811.2 L2167.9 1816.2 L2175.8 1831.6 L2193.9 1836.1 L2202.9 1842.9 L2204 1854.2 L2191.6 1863.2 L2202.9 1879.1 L2201.8 1890.4 L2204 1901.7 L2193.9 1910.7"/>
<path d="M2040.1 1831.6 L2046.9 1810.6 L2105.7 1809.4 L2080.8 1854.2 L2094.4 1865.5 L2089.9 1872.3 L2096.7 1876.8 L2080.8 1879.1 L2079.7 1883.6 L2089.9 1888.1 L2089.9 1892.6"/>
<path d="M2040.1 1831.6 L2023.2 1850.8 L2006.2 1854.2 L1994.9 1872.3 L1987 1892.6 L1982.5 1915"/>
<path d="M1900 1865.5 L1913.6 1863.2 L1931.6 1867.8 L1949.7 1873.4 L1952 1870 L1974.6 1865.5 L1990.4 1874.5"/>
<path d="M1920 2240.7 L1949.3 2241.4 L1960.7 2247.9 L1962.3 2262.5 L1991.6 2273.9 L2017.7 2270.7 L2047 2264.2 L2060 2257.7 L2069.7 2243 L2076.2 2238.1 L2089.3 2244.6 L2108.8 2246.3 L2121.8 2241.4 L2128.3 2257.7 L2147.9 2275.6 L2167.4 2272.3 L2186.9 2277.2 L2206.5 2270.7 L2222.7 2265.8 L2235.8 2273.9 L2255.3 2272.3 L2258.5 2280.4 L2278.1 2272.3 L2317.1 2261.6 L2323.6 2270.7 L2346.4 2265.8 L2369.2 2273.3 L2374.1 2262.5"/>
<path d="M1203.2 2519.5 L1235.7 2527.7"/>
</g>
<g fill="#000">
<circle cx="1995.5" cy="323" r="3.7"/>
<circle cx="1838" cy="438.3" r="3.7"/>
<circle cx="1614" cy="514.8" r="3.7"/>
<circle cx="1800.6" cy="613.4" r="3.7"/>
<circle cx="1529.4" cy="682.8" r="3.7"/>
<circle cx="1780.4" cy="689.3" r="3.7"/>
<circle cx="1786" cy="733.9" r="3.7"/>
<circle cx="1822.4" cy="715.3" r="3.7"/>
<circle cx="1807.4" cy="760.9" r="3.7"/>
<circle cx="1336.6" cy="774.6" r="3.7"/>
<circle cx="2061" cy="450" r="3.7"/>
<circle cx="2121.5" cy="454.6" r="3.7"/>
<circle cx="1992.3" cy="567.2" r="3.7"/>
<circle cx="2115.6" cy="551" r="3.7"/>
<circle cx="1995.5" cy="668.1" r="3.7"/>
<circle cx="2135.8" cy="654.8" r="3.7"/>
<circle cx="2077.9" cy="732.2" r="3.7"/>
<circle cx="2005.3" cy="806" r="3.7"/>
<circle cx="1153.9" cy="760.4" r="3.7"/>
<circle cx="1171.8" cy="805.6" r="3.7"/>
<circle cx="1287" cy="867.2" r="3.7"/>
<circle cx="1503.2" cy="831.3" r="3.7"/>
<circle cx="1569" cy="934.9" r="3.7"/>
<circle cx="1398" cy="1025.7" r="3.7"/>
<circle cx="1243.4" cy="1077.1" r="3.7"/>
<circle cx="1557.6" cy="1032.2" r="3.7"/>
<circle cx="1582.6" cy="1052.7" r="3.7"/>
<circle cx="1776.3" cy="808.3" r="3.7"/>
<circle cx="1808.2" cy="812.6" r="3.7"/>
<circle cx="1821.8" cy="815.8" r="3.7"/>
<circle cx="1757.4" cy="821.7" r="3.7"/>
<circle cx="1883" cy="823.9" r="3.7"/>
<circle cx="1852.1" cy="850" r="3.7"/>
<circle cx="1873.9" cy="864.6" r="3.7"/>
<circle cx="1637.3" cy="863.7" r="3.7"/>
<circle cx="1977.4" cy="912.8" r="3.7"/>
<circle cx="2185.8" cy="911.8" r="3.7"/>
<circle cx="1908.1" cy="976.9" r="3.7"/>
<circle cx="1793.2" cy="965.5" r="3.7"/>
<circle cx="1712.4" cy="1000.7" r="3.7"/>
<circle cx="1875.5" cy="1054.4" r="3.7"/>
<circle cx="2176.6" cy="973" r="3.7"/>
<circle cx="2295.5" cy="976" r="3.7"/>
<circle cx="2262.9" cy="1000.7" r="3.7"/>
<circle cx="2254.1" cy="1020.9" r="3.7"/>
<circle cx="1711.5" cy="1120.8" r="3.7"/>
<circle cx="1871.3" cy="1154.3" r="3.7"/>
<circle cx="1843.6" cy="1294.3" r="3.7"/>
<circle cx="1941.4" cy="1297.3" r="3.7"/>
<circle cx="1155.5" cy="1285.4" r="3.7"/>
<circle cx="1581.5" cy="1171.8" r="3.7"/>
<circle cx="1356.9" cy="1242.8" r="3.7"/>
<circle cx="1232.6" cy="1260" r="3.7"/>
<circle cx="1577" cy="1257.4" r="3.7"/>
<circle cx="1492.3" cy="1343" r="3.7"/>
<circle cx="1575" cy="1327.4" r="3.7"/>
<circle cx="1820.8" cy="1448.5" r="3.7"/>
<circle cx="1940.5" cy="1390.2" r="3.7"/>
<circle cx="1304.2" cy="1423.4" r="3.7"/>
<circle cx="1623.2" cy="1490.8" r="3.7"/>
<circle cx="1733.9" cy="1463.5" r="3.7"/>
<circle cx="1319.5" cy="1518.5" r="3.7"/>
<circle cx="1471.8" cy="1507.4" r="3.7"/>
<circle cx="1800.6" cy="1565.7" r="3.7"/>
<circle cx="2045.7" cy="1517.8" r="3.7"/>
<circle cx="2011.6" cy="1583.4" r="3.7"/>
<circle cx="854.3" cy="1438.1" r="3.7"/>
<circle cx="1024.3" cy="1486.9" r="3.7"/>
<circle cx="743.7" cy="1538.3" r="3.7"/>
<circle cx="992" cy="1563.4" r="3.7"/>
<circle cx="607.6" cy="1659.7" r="3.7"/>
<circle cx="823.4" cy="1658.1" r="3.7"/>
<circle cx="1131" cy="1647.7" r="3.7"/>
<circle cx="1127.8" cy="1750.2" r="3.7"/>
<circle cx="1120.6" cy="1791.9" r="3.7"/>
<circle cx="791.5" cy="1781.1" r="3.7"/>
<circle cx="935.7" cy="1831.6" r="3.7"/>
<circle cx="1173.4" cy="1835.8" r="3.7"/>
<circle cx="625.5" cy="1889.5" r="3.7"/>
<circle cx="775.6" cy="1912.3" r="3.7"/>
<circle cx="890.8" cy="2031.1" r="3.7"/>
<circle cx="1149.6" cy="2038.3" r="3.7"/>
<circle cx="820.8" cy="2120.3" r="3.7"/>
<circle cx="1036.6" cy="2153.9" r="3.7"/>
<circle cx="1481.6" cy="1631.4" r="3.7"/>
<circle cx="1620.6" cy="1659.1" r="3.7"/>
<circle cx="1808.1" cy="1650.3" r="3.7"/>
<circle cx="1779.4" cy="1663.9" r="3.7"/>
<circle cx="1821.7" cy="1711.1" r="3.7"/>
<circle cx="1912" cy="1712.8" r="3.7"/>
<circle cx="1687.3" cy="1756.7" r="3.7"/>
<circle cx="1865.7" cy="1828.3" r="3.7"/>
<circle cx="1376.4" cy="1776.3" r="3.7"/>
<circle cx="1586.7" cy="1810.4" r="3.7"/>
<circle cx="1426.9" cy="1857.6" r="3.7"/>
<circle cx="1637.8" cy="1894.4" r="3.7"/>
<circle cx="1689.3" cy="1941.6" r="3.7"/>
<circle cx="1283" cy="1955.3" r="3.7"/>
<circle cx="1317.2" cy="1977.4" r="3.7"/>
<circle cx="1426.9" cy="2034.4" r="3.7"/>
<circle cx="1504.4" cy="2031.1" r="3.7"/>
<circle cx="1564.6" cy="2036" r="3.7"/>
<circle cx="1664.8" cy="2068.6" r="3.7"/>
<circle cx="1672" cy="2090.4" r="3.7"/>
<circle cx="1626.4" cy="2115.4" r="3.7"/>
<circle cx="1910.2" cy="1788.6" r="3.7"/>
<circle cx="1878.6" cy="1874.4" r="3.7"/>
<circle cx="1880.8" cy="1883" r="3.7"/>
<circle cx="1889.4" cy="1891.5" r="3.7"/>
<circle cx="1812.6" cy="1903.3" r="3.7"/>
<circle cx="1973.5" cy="1918" r="3.7"/>
<circle cx="1983.7" cy="1924.3" r="3.7"/>
<circle cx="1954.7" cy="1939.9" r="3.7"/>
<circle cx="2119.8" cy="1860.3" r="3.7"/>
<circle cx="2125.6" cy="1939.5" r="3.7"/>
<circle cx="1902.3" cy="1956.4" r="3.7"/>
<circle cx="1922.6" cy="1969.3" r="3.7"/>
<circle cx="1932.8" cy="1975.6" r="3.7"/>
<circle cx="1952.7" cy="1970.7" r="3.7"/>
<circle cx="1966.7" cy="1977.9" r="3.7"/>
<circle cx="1927.2" cy="1984.2" r="3.7"/>
<circle cx="1943" cy="1984.7" r="3.7"/>
<circle cx="1955.4" cy="1985.3" r="3.7"/>
<circle cx="1987.1" cy="1987.4" r="3.7"/>
<circle cx="1909.8" cy="1989.9" r="3.7"/>
<circle cx="1966.7" cy="1992.6" r="3.7"/>
<circle cx="1999.5" cy="1997.1" r="3.7"/>
<circle cx="1892.6" cy="1999.4" r="3.7"/>
<circle cx="2049.2" cy="1994.4" r="3.7"/>
<circle cx="2069.6" cy="1977.9" r="3.7"/>
<circle cx="2113.7" cy="1981.3" r="3.7"/>
<circle cx="1719.2" cy="1962.1" r="3.7"/>
<circle cx="1814.2" cy="1967" r="3.7"/>
<circle cx="1840.1" cy="1973.4" r="3.7"/>
<circle cx="1787" cy="1979" r="3.7"/>
<circle cx="1763.3" cy="2000.5" r="3.7"/>
<circle cx="1754.9" cy="2012.2" r="3.7"/>
<circle cx="1753.6" cy="2023.5" r="3.7"/>
<circle cx="1860.9" cy="2017" r="3.7"/>
<circle cx="1901.2" cy="2010.7" r="3.7"/>
<circle cx="1906.8" cy="2009.5" r="3.7"/>
<circle cx="1801.7" cy="2026.9" r="3.7"/>
<circle cx="1923.8" cy="2026.9" r="3.7"/>
<circle cx="1928.8" cy="2027.6" r="3.7"/>
<circle cx="1994.5" cy="2024.2" r="3.7"/>
<circle cx="1732.8" cy="2045.7" r="3.7"/>
<circle cx="1759.2" cy="2045.7" r="3.7"/>
<circle cx="1771.9" cy="2049.1" r="3.7"/>
<circle cx="1844.7" cy="2042.3" r="3.7"/>
<circle cx="1954.7" cy="2048.4" r="3.7"/>
<circle cx="1804.4" cy="2060.4" r="3.7"/>
<circle cx="1825.9" cy="2064.9" r="3.7"/>
<circle cx="1840.1" cy="2066" r="3.7"/>
<circle cx="1854.4" cy="2069" r="3.7"/>
<circle cx="1924.5" cy="2063.3" r="3.7"/>
<circle cx="1984.4" cy="2066.7" r="3.7"/>
<circle cx="1830.7" cy="2079.6" r="3.7"/>
<circle cx="1898.2" cy="2075.1" r="3.7"/>
<circle cx="1861.6" cy="2091.6" r="3.7"/>
<circle cx="1940.3" cy="2084.6" r="3.7"/>
<circle cx="1975.8" cy="2089.8" r="3.7"/>
<circle cx="2006.3" cy="2082.3" r="3.7"/>
<circle cx="1891.5" cy="2105.1" r="3.7"/>
<circle cx="1959.5" cy="2096.1" r="3.7"/>
<circle cx="1946.8" cy="2103.3" r="3.7"/>
<circle cx="2027.8" cy="2104.5" r="3.7"/>
<circle cx="1896.7" cy="2124.4" r="3.7"/>
<circle cx="1934.4" cy="2116.2" r="3.7"/>
<circle cx="1957.7" cy="2119.8" r="3.7"/>
<circle cx="1984.4" cy="2116.9" r="3.7"/>
<circle cx="2115.2" cy="2127.5" r="3.7"/>
<circle cx="1845.8" cy="2149.7" r="3.7"/>
<circle cx="1906.8" cy="2153.7" r="3.7"/>
<circle cx="2026.6" cy="2154.2" r="3.7"/>
<circle cx="1896.7" cy="2179.7" r="3.7"/>
<circle cx="1901.2" cy="2178.4" r="3.7"/>
<circle cx="1972.8" cy="2173.4" r="3.7"/>
<circle cx="1994.5" cy="2192.6" r="3.7"/>
<circle cx="2038.4" cy="2208.9" r="3.7"/>
<circle cx="2185.3" cy="1619.1" r="3.7"/>
<circle cx="2152" cy="1641.3" r="3.7"/>
<circle cx="2186.6" cy="1642.2" r="3.7"/>
<circle cx="2110.7" cy="1661.6" r="3.7"/>
<circle cx="2057.5" cy="1682.4" r="3.7"/>
<circle cx="2146.8" cy="1679" r="3.7"/>
<circle cx="2172.4" cy="1680.1" r="3.7"/>
<circle cx="2249.7" cy="1666.1" r="3.7"/>
<circle cx="2297.8" cy="1673.4" r="3.7"/>
<circle cx="2118.8" cy="1689.6" r="3.7"/>
<circle cx="2224.8" cy="1703.2" r="3.7"/>
<circle cx="2100.7" cy="1720.8" r="3.7"/>
<circle cx="2121.1" cy="1732.1" r="3.7"/>
<circle cx="2362.9" cy="1748" r="3.7"/>
<circle cx="2367.9" cy="1752.9" r="3.7"/>
<circle cx="2160.6" cy="1786.4" r="3.7"/>
<circle cx="2027.3" cy="1818" r="3.7"/>
<circle cx="2228.9" cy="1827.5" r="3.7"/>
<circle cx="2245.8" cy="1845.2" r="3.7"/>
<circle cx="2222.7" cy="1929.9" r="3.7"/>
<circle cx="2278.7" cy="1933.5" r="3.7"/>
<circle cx="2409.3" cy="2057.8" r="3.7"/>
<circle cx="2361.1" cy="2141.5" r="3.7"/>
<circle cx="2263.4" cy="2178.9" r="3.7"/>
<circle cx="2168.4" cy="2230" r="3.7"/>
<circle cx="846.9" cy="2194.2" r="3.7"/>
<circle cx="1148.9" cy="2196.8" r="3.7"/>
<circle cx="706.9" cy="2296.1" r="3.7"/>
<circle cx="819.2" cy="2284.7" r="3.7"/>
<circle cx="974.1" cy="2307.1" r="3.7"/>
<circle cx="990.4" cy="2338.4" r="3.7"/>
<circle cx="1107.6" cy="2278.2" r="3.7"/>
<circle cx="911.3" cy="2410.7" r="3.7"/>
<circle cx="993.7" cy="2404.1" r="3.7"/>
<circle cx="1158.7" cy="2418.8" r="3.7"/>
<circle cx="1138.5" cy="2474.1" r="3.7"/>
<circle cx="842" cy="2492" r="3.7"/>
<circle cx="902.5" cy="2489.7" r="3.7"/>
<circle cx="1014.5" cy="2543.5" r="3.7"/>
<circle cx="859.9" cy="2645" r="3.7"/>
<circle cx="794.6" cy="2768.6" r="3.7"/>
<circle cx="1298.6" cy="2163.3" r="3.7"/>
<circle cx="1435" cy="2169.1" r="3.7"/>
<circle cx="1525.5" cy="2164.9" r="3.7"/>
<circle cx="1439.3" cy="2209.5" r="3.7"/>
<circle cx="1397.6" cy="2250.2" r="3.7"/>
<circle cx="1270.6" cy="2318.5" r="3.7"/>
<circle cx="1379.7" cy="2347.8" r="3.7"/>
<circle cx="1538.5" cy="2246.9" r="3.7"/>
<circle cx="1511.5" cy="2308.4" r="3.7"/>
<circle cx="1742.6" cy="2270.7" r="3.7"/>
<circle cx="1797.3" cy="2272.3" r="3.7"/>
<circle cx="1853.6" cy="2270.7" r="3.7"/>
<circle cx="1803.2" cy="2290.9" r="3.7"/>
<circle cx="1854.3" cy="2289.6" r="3.7"/>
<circle cx="1813.6" cy="2308.8" r="3.7"/>
<circle cx="1845.5" cy="2310.4" r="3.7"/>
<circle cx="1873.8" cy="2311.4" r="3.7"/>
<circle cx="1766.4" cy="2314.6" r="3.7"/>
<circle cx="1686.7" cy="2341.6" r="3.7"/>
<circle cx="1678.5" cy="2359.2" r="3.7"/>
<circle cx="1731.3" cy="2355.3" r="3.7"/>
<circle cx="1749.5" cy="2365.1" r="3.7"/>
<circle cx="1717.6" cy="2374.8" r="3.7"/>
<circle cx="1806.1" cy="2366.7" r="3.7"/>
<circle cx="1862.4" cy="2346.2" r="3.7"/>
<circle cx="1832.2" cy="2409.1" r="3.7"/>
<circle cx="1926" cy="2441.2" r="3.7"/>
<circle cx="2024.8" cy="2336.3" r="3.7"/>
<circle cx="2128.8" cy="2396.2" r="3.7"/>
<circle cx="2175.8" cy="2370.7" r="3.7"/>
<circle cx="2086" cy="2265.1" r="3.7"/>
<circle cx="2071.4" cy="2283.7" r="3.7"/>
<circle cx="2260.8" cy="2323.7" r="3.7"/>
<circle cx="2303.1" cy="2315.6" r="3.7"/>
</g>
<g class="lb" fill="#000">
<text x="1751.8" y="311.7">康平山东屯西辽河河道堤防管理所</text>
<text x="1740.4" y="426.6">康平海州窝堡</text>
<text x="1532" y="502.1">康平小城子</text>
<text x="1768" y="601.4">康平</text>
<text x="1432" y="670.5">康平二牛所口</text>
<text x="1699.7" y="677.3">康平卧龙湖</text>
<text x="1742" y="749.5">康平东关</text>
<text x="1665.5" y="804.9">康平东关小城子</text>
<text x="1962.3" y="437">康平北三家子</text>
<text x="1890.4" y="553.6">康平北四家子</text>
<text x="1941.2" y="642.1">康平两家子河道堤防管理所</text>
<text x="1882.6" y="719.6">康平郝官屯河道堤防管理所</text>
<text x="1923.3" y="791.8">康平郝官屯</text>
<text x="1010.7" y="746.7">康平沙金台万宝营子</text>
<text x="1090.4" y="792.3">康平沙金台</text>
<text x="1206" y="854.2">康平柳树屯</text>
<text x="1438.7" y="818.7">康平东升</text>
<text x="1487.6" y="921.9">康平西关屯</text>
<text x="1318.3" y="1011.4">法库卧牛石</text>
<text x="1163.7" y="1063.5">法库包家屯</text>
<text x="1503.8" y="1039">法库四家子</text>
<text x="1742.1" y="836.3">康平三台子水库</text>
<text x="1882" y="899.8">法库孟家老边</text>
<text x="2122.9" y="898.8">法库和平</text>
<text x="1844.6" y="963.9">法库孟家</text>
<text x="1845.6" y="1041.4">法库</text>
<text x="2169.5" y="963.3">法库柏家沟刘小船</text>
<text x="2129.4" y="1007.2">法库柏家沟党家街</text>
<text x="1648.6" y="1106.5">法库龙山</text>
<text x="1791.9" y="1140.7">法库十间房</text>
<text x="1747.6" y="1279">法库大孤家子</text>
<text x="1077.3" y="1271.4">法库叶茂台</text>
<text x="1501.1" y="1159.1">法库双台子</text>
<text x="1260.2" y="1230.7">法库秀水河子</text>
<text x="1497.9" y="1245.4">法库丁家房</text>
<text x="1396.3" y="1330">法库登仕堡子</text>
<text x="1764.6" y="1378.9">法库依牛堡子东拉马河子</text>
<text x="1724.7" y="1434.8">法库依牛堡子</text>
<text x="1207.2" y="1409.8">新民新农村镇</text>
<text x="1542.4" y="1476.5">新民陶家屯</text>
<text x="1238.4" y="1505.8">新民公主屯</text>
<text x="1720.2" y="1551.4">沈北石佛寺</text>
<text x="1947.7" y="1504.2">沈北黄家大丁</text>
<text x="1948.6" y="1570">沈北黄家</text>
<text x="693.2" y="1426.7">新民于家窝堡大四台子</text>
<text x="943.9" y="1474.9">新民大柳屯</text>
<text x="663.9" y="1527">新民周坨子</text>
<text x="883" y="1551.4">新民大柳屯北岗</text>
<text x="545.1" y="1645.4">新民姚堡</text>
<text x="760" y="1643.8">新民梁山</text>
<text x="1051.3" y="1632.4">新民高台子</text>
<text x="1064.3" y="1736.6">新民东城</text>
<text x="1090.4" y="1779.9">新民</text>
<text x="710.5" y="1767.5">新民卢家屯</text>
<text x="855" y="1817.9">新民柳河沟</text>
<text x="1030.1" y="1821.2">新民东城气象观测站</text>
<text x="561.4" y="1876.5">新民红旗</text>
<text x="793.2" y="2018.8">新民金五台子</text>
<text x="1069.2" y="2026.3">新民前当堡</text>
<text x="724.8" y="2109.3">辽中大黑岗子</text>
<text x="955.9" y="2141.8">辽中冷子堡</text>
<text x="1540.2" y="1645.4">新民罗家房</text>
<text x="1727.3" y="1635.6">沈北兴隆台</text>
<text x="1723.4" y="1697.5">沈北新区尹家</text>
<text x="1623.8" y="1744.7">于洪平罗</text>
<text x="1785.9" y="1775">沈北方特欢乐世界</text>
<text x="1802.2" y="1814.7">沈北正良</text>
<text x="1313.3" y="1762.6">新民兴隆</text>
<text x="1523.9" y="1798.4">于洪光辉</text>
<text x="1345.8" y="1844">新民兴隆堡</text>
<text x="1558.1" y="1879.8">于洪马三家</text>
<text x="1750.1" y="1889.6">于洪造化</text>
<text x="1626.4" y="1927">于洪大兴</text>
<text x="1202.6" y="1941.6">新民大民屯</text>
<text x="1681" y="1984">铁西体育场</text>
<text x="1345.8" y="2019.8">新民法哈牛</text>
<text x="1528.8" y="2101.1">铁西工业大学</text>
<text x="1218.9" y="2148.3">辽中杨士岗</text>
<text x="1462" y="2151.6">铁西大潘</text>
<text x="1765.6" y="2141.6">浑南西区污雨水泵站</text>
<text x="1773.5" y="2052.3">和平工农桥</text>
<text x="1810.8" y="2089.6">和平沈水湾</text>
<text x="2042.4" y="1628">沈北清水台前屯</text>
<text x="2027.6" y="1668.5">沈北</text>
<text x="1974.2" y="1707.8">沈北清水台中五旗</text>
<text x="2287.7" y="1743">浑南古砬子</text>
<text x="2097.6" y="1773">沈北辉山</text>
<text x="2010.4" y="1847.8">沈北农业高新区</text>
<text x="1896.7" y="1905.6">大东文官屯</text>
<text x="2200" y="1920.5">浑南晓仁镜</text>
<text x="1861.6" y="1971.7">大东广场泵站</text>
<text x="1898.9" y="2009.4">大东沈阳一中</text>
<text x="1998.3" y="2091.7">浑南</text>
<text x="2328.5" y="2044.2">浑南中华寺</text>
<text x="2297.6" y="2127.2">浑南王滨</text>
<text x="2184" y="2164">浑南李麦峪</text>
<text x="766.5" y="2182.2">辽中老大房</text>
<text x="626.5" y="2283.1">辽中牛心坨</text>
<text x="894.1" y="2294.5">辽中养士堡</text>
<text x="912.9" y="2390.5">辽中区政府</text>
<text x="1055" y="2462.1">辽中肖寨门</text>
<text x="732.3" y="2478.4">辽中六间房马龙</text>
<text x="951.4" y="2528.8">辽中蒲东</text>
<text x="779.5" y="2631.4">辽中朱家房</text>
<text x="714.2" y="2756.5">辽中于家房</text>
<text x="1358.9" y="2195.2">铁西彰驿站</text>
<text x="1317.2" y="2237.5">铁西新民屯</text>
<text x="1188.5" y="2304.2">铁西四方台</text>
<text x="1431.8" y="2294.5">苏家屯永乐</text>
<text x="1672" y="2258.7">苏家屯林盛四方台</text>
<text x="1624.2" y="2302.6">苏家屯林盛史三家子</text>
<text x="1520.6" y="2346.5">苏家屯八一红菱宋大台</text>
<text x="1800.6" y="2430.5">苏家屯十里河大沟</text>
<text x="1886.5" y="2181.2">浑南莫子山公园</text>
<text x="2089.3" y="2218">浑南王士兰</text>
<text x="1991.6" y="2271.7">苏家屯佟沟</text>
<text x="1945.4" y="2323.8">苏家屯陈相</text>
<text x="2152.7" y="2312.4">苏家屯白清姚千</text>
<text x="1970" y="2385">苏家屯白清姚千马耳山</text>
</g>
<g class="v" fill="#000">
<text x="1995.5" y="357.3">0</text>
<text x="1837.4" y="472.2">0</text>
<text x="1614" y="548.7">0</text>
<text x="1513.5 1526.7 1546.5" y="715.3">0.8</text>
<text x="1336.2" y="808">0</text>
<text x="2061" y="483.6">0</text>
<text x="2121.5" y="488.5">0</text>
<text x="1992.3" y="601.4">0</text>
<text x="2115.6" y="585.2">0</text>
<text x="1171.2" y="838.9">0</text>
<text x="1286.7" y="900.1">0</text>
<text x="1502.5" y="864.9">0</text>
<text x="1569" y="967.8">0</text>
<text x="1398" y="1058">0</text>
<text x="1242.3" y="1109.7">0</text>
<text x="1851.8" y="883.6">0</text>
<text x="2005.1" y="838">0</text>
<text x="1792.9" y="998.5">0</text>
<text x="1711.8" y="1032.7">0</text>
<text x="1874.9" y="1088">0</text>
<text x="2253.8" y="1053.8">0</text>
<text x="1711.1" y="1153.7">0</text>
<text x="1870.7" y="1187.3">0</text>
<text x="1827.7 1840.9 1860.7" y="1328.9">0.2</text>
<text x="1941" y="1331.5">0</text>
<text x="1582.6" y="1086">0</text>
<text x="1140.2 1153.4 1173.2" y="1318">1.4</text>
<text x="829 845.5 858.8 878.5" y="1472.6">24.1</text>
<text x="718.4 734.9 748.1 767.9" y="1572.9">56.9</text>
<text x="975.8 989 1008.8" y="1598">2.6</text>
<text x="1564.9 1578.1 1597.9" y="1205">0.1</text>
<text x="1340.3 1353.5 1373.3" y="1275.7">0.7</text>
<text x="1560 1573.2 1593" y="1291">0.9</text>
<text x="1476.1 1489.3 1509.1" y="1376.6">1.9</text>
<text x="1804.2 1817.4 1837.2" y="1481.7">0.5</text>
<text x="1287.3 1300.5 1320.3" y="1457">2.7</text>
<text x="1606.3 1619.5 1639.3" y="1524.1">2.8</text>
<text x="1716.9 1730.1 1749.9" y="1497">2.1</text>
<text x="1302.6 1315.8 1335.6" y="1551.7">2.6</text>
<text x="1455.5 1468.7 1488.5" y="1541">1.8</text>
<text x="1783.7 1796.9 1816.7" y="1599">1.9</text>
<text x="1995.8 2009 2028.8" y="1616.3">2.8</text>
<text x="591 604.2 624" y="1692">4.2</text>
<text x="807.2 820.4 840.2" y="1690.4">8.3</text>
<text x="1105.8 1122.2 1135.5 1155.2" y="1680.6">22.8</text>
<text x="774.6 787.8 807.6" y="1814.7">9.6</text>
<text x="917.8 931 950.8" y="1864.5">6.7</text>
<text x="1148 1164.5 1177.8 1197.5" y="1870">19.3</text>
<text x="599.5 616 629.2 649" y="1922.1">37.3</text>
<text x="750.2 766.8 780 799.8" y="1945.9">34.2</text>
<text x="864.9 881.4 894.6 914.4" y="2064.7">43.3</text>
<text x="1133 1146.2 1166" y="2071.9">3.6</text>
<text x="1466.3 1479.5 1499.3" y="1664.3">1.4</text>
<text x="1604 1617.2 1637" y="1692">3.3</text>
<text x="1669.7 1682.9 1702.7" y="1789.6">2.6</text>
<text x="1562 1578.5 1591.8 1611.5" y="1843.4">22.8</text>
<text x="1401.5 1418 1431.2 1451" y="1890.6">34.2</text>
<text x="1787.5 1804 1817.2 1837" y="1936.3">63.5</text>
<text x="1257.8 1274.2 1287.5 1307.2" y="1988.2">34.9</text>
<text x="1401.5 1418 1431.2 1451" y="2066.3">32.9</text>
<text x="1480.7 1497.2 1510.4 1530.2" y="2064.7">13.3</text>
<text x="1618.5 1635" y="2147.7">65</text>
<text x="2129.2 2145.8 2158.9 2178.8" y="1674.8">16.2</text>
<text x="2350.6 2363.8 2383.6" y="1785.5">4.6</text>
<text x="2101.8 2115 2134.8" y="1894.2">4.8</text>
<text x="2253.8 2270.2 2283.4 2303.2" y="1966.4">47.4</text>
<text x="2100.7 2117.2 2130.3 2150.2" y="1973">34.5</text>
<text x="2104.8 2121.2" y="2014.5">56</text>
<text x="1970 1986.5 1999.7 2019.5" y="2056.7">33.9</text>
<text x="2391.4 2404.6 2424.4" y="2090.8">5.2</text>
<text x="846.2" y="2227.1">8</text>
<text x="1026.5 1043" y="2188">42</text>
<text x="1125.2 1141.8 1155 1174.8" y="2230.4">16.8</text>
<text x="682.5 699 712.2 732" y="2329.6">18.4</text>
<text x="949.5 966 979.2 999" y="2341">20.4</text>
<text x="1090.7 1103.9 1123.7" y="2311.7">1.2</text>
<text x="888.2 904.8 918 937.8" y="2443.6">16.6</text>
<text x="970 986.5 999.7 1019.5" y="2437.1">18.4</text>
<text x="1122.3 1135.5 1155.3" y="2506.4">8.5</text>
<text x="814.4 830.9 844.1 863.9" y="2525">50.3</text>
<text x="989.5 1006 1019.2 1039" y="2576.1">20.7</text>
<text x="835 851.5 864.7 884.5" y="2678.9">35.2</text>
<text x="777.1 790.3 810.1" y="2800.8">0.8</text>
<text x="1274 1290.5 1303.7 1323.5" y="2196.2">39.1</text>
<text x="1381 1394.2 1414" y="2284.1">0.5</text>
<text x="1253.7 1266.9 1286.7" y="2351.5">0.5</text>
<text x="1363.1 1376.3 1396.1" y="2381.7">0.3</text>
<text x="1856.9 1870.1 1889.9" y="2344.3">3.9</text>
<text x="1661.6 1674.8 1694.6" y="2392.5">9.4</text>
<text x="1717.4" y="2407.8">6</text>
<text x="1901.7 1918.2 1931.4 1951.2" y="2475.5">17.8</text>
<text x="1838.2 1854.8" y="2182.7">33</text>
<text x="1970.5 1987 2000.2 2020" y="2225.5">12.2</text>
<text x="2302.3" y="2349.2">6</text>
<text x="2104.2 2120.8 2133.9 2153.8" y="2430.4">11.6</text>
</g>
<rect x="216.3" y="78.9" width="3870.6" height="2903.9" fill="none" stroke="#000" stroke-width="4.2"/>
<g stroke="#000" stroke-width="4" fill="none">
<path d="M194 355.7 H215"/>
<path d="M194 632.18 H215"/>
<path d="M194 908.66 H215"/>
<path d="M194 1185.14 H215"/>
<path d="M194 1461.62 H215"/>
<path d="M194 1738.1 H215"/>
<path d="M194 2014.58 H215"/>
<path d="M194 2291.06 H215"/>
<path d="M194 2567.54 H215"/>
<path d="M194 2844.02 H215"/>
<path d="M630.9 2984 V3003.4"/>
<path d="M1322.4 2984 V3003.4"/>
<path d="M2013.9 2984 V3003.4"/>
<path d="M2705.4 2984 V3003.4"/>
<path d="M3396.9 2984 V3003.4"/>
</g>
<g class="s" font-size="43.4" fill="#000">
<text transform="translate(174,369.3) scale(0.955,1)" text-anchor="end">43ºN</text>
<text transform="translate(174,645.78) scale(0.955,1)" text-anchor="end">42.8ºN</text>
<text transform="translate(174,922.26) scale(0.955,1)" text-anchor="end">42.6ºN</text>
<text transform="translate(174,1198.74) scale(0.955,1)" text-anchor="end">42.4ºN</text>
<text transform="translate(174,1475.22) scale(0.955,1)" text-anchor="end">42.2ºN</text>
<text transform="translate(174,1751.7) scale(0.955,1)" text-anchor="end">42ºN</text>
<text transform="translate(174,2028.18) scale(0.955,1)" text-anchor="end">41.8ºN</text>
<text transform="translate(174,2304.66) scale(0.955,1)" text-anchor="end">41.6ºN</text>
<text transform="translate(174,2581.14) scale(0.955,1)" text-anchor="end">41.4ºN</text>
<text transform="translate(174,2857.62) scale(0.955,1)" text-anchor="end">41.2ºN</text>
<text transform="translate(630.9,3058) scale(0.955,1)" text-anchor="middle">122.5ºE</text>
<text transform="translate(1322.4,3058) scale(0.955,1)" text-anchor="middle">123ºE</text>
<text transform="translate(2013.9,3058) scale(0.955,1)" text-anchor="middle">123.5ºE</text>
<text transform="translate(2705.4,3058) scale(0.955,1)" text-anchor="middle">124ºE</text>
<text transform="translate(3396.9,3058) scale(0.955,1)" text-anchor="middle">124.5ºE</text>
</g>
<text class="k" x="706" y="212.5" font-size="66" letter-spacing="9.7" font-weight="500">沈阳市降水实况分布图</text>
<text class="s" x="577.9" y="295.7" font-size="53.5" text-anchor="middle">2</text><text class="s" x="606.5" y="295.7" font-size="53.5" text-anchor="middle">0</text><text class="s" x="635.1" y="295.7" font-size="53.5" text-anchor="middle">2</text><text class="s" x="663.7" y="295.7" font-size="53.5" text-anchor="middle">4</text><text class="k" x="706.6" y="295.7" font-size="52" text-anchor="middle">年</text><text class="s" x="749.5" y="295.7" font-size="53.5" text-anchor="middle">0</text><text class="s" x="778.1" y="295.7" font-size="53.5" text-anchor="middle">8</text><text class="k" x="821" y="295.7" font-size="52" text-anchor="middle">月</text><text class="s" x="863.9" y="295.7" font-size="53.5" text-anchor="middle">1</text><text class="s" x="892.5" y="295.7" font-size="53.5" text-anchor="middle">2</text><text class="k" x="935.4" y="295.7" font-size="52" text-anchor="middle">日</text><text class="s" x="978.3" y="295.7" font-size="53.5" text-anchor="middle">1</text><text class="s" x="1006.9" y="295.7" font-size="53.5" text-anchor="middle">2</text><text class="k" x="1049.8" y="295.7" font-size="52" text-anchor="middle">时</text><text class="k" x="1107" y="295.7" font-size="52" text-anchor="middle">至</text><text class="s" x="1149.9" y="295.7" font-size="53.5" text-anchor="middle">2</text><text class="s" x="1178.5" y="295.7" font-size="53.5" text-anchor="middle">0</text><text class="s" x="1207.1" y="295.7" font-size="53.5" text-anchor="middle">2</text><text class="s" x="1235.7" y="295.7" font-size="53.5" text-anchor="middle">4</text><text class="k" x="1278.6" y="295.7" font-size="52" text-anchor="middle">年</text><text class="s" x="1321.5" y="295.7" font-size="53.5" text-anchor="middle">0</text><text class="s" x="1350.1" y="295.7" font-size="53.5" text-anchor="middle">8</text><text class="k" x="1393" y="295.7" font-size="52" text-anchor="middle">月</text><text class="s" x="1435.9" y="295.7" font-size="53.5" text-anchor="middle">1</text><text class="s" x="1464.5" y="295.7" font-size="53.5" text-anchor="middle">2</text><text class="k" x="1507.4" y="295.7" font-size="52" text-anchor="middle">日</text><text class="s" x="1550.3" y="295.7" font-size="53.5" text-anchor="middle">2</text><text class="s" x="1578.9" y="295.7" font-size="53.5" text-anchor="middle">0</text><text class="k" x="1621.8" y="295.7" font-size="52" text-anchor="middle">时</text>
<text class="k" x="2735" y="724" font-size="46" text-anchor="middle">全</text><text class="k" x="2784.2" y="724" font-size="46" text-anchor="middle">市</text><text class="k" x="2833.4" y="724" font-size="46" text-anchor="middle">平</text><text class="k" x="2882.6" y="724" font-size="46" text-anchor="middle">均</text><text class="k" x="2931.8" y="724" font-size="46" text-anchor="middle">降</text><text class="k" x="2981" y="724" font-size="46" text-anchor="middle">水</text><text class="k" x="3030.2" y="724" font-size="46" text-anchor="middle">量</text><text class="s" x="3067.1" y="723.5" font-size="46" text-anchor="middle">2</text><text class="s" x="3091.7" y="723.5" font-size="46" text-anchor="middle">2</text><text class="s" x="3111.4" y="723.5" font-size="46" text-anchor="middle">.</text><text class="s" x="3140.9" y="723.5" font-size="46" text-anchor="middle">5</text><text class="k" x="3177.8" y="724" font-size="46" text-anchor="middle">毫</text><text class="k" x="3227" y="724" font-size="46" text-anchor="middle">米</text>
<text font-family='"Noto Sans CJK SC",sans-serif' font-weight="300" x="2732" y="830" font-size="48" text-anchor="middle">≥</text><text class="s" x="2771.9" y="829" font-size="46" text-anchor="middle">1</text><text class="s" x="2796.5" y="829" font-size="46" text-anchor="middle">0</text><text class="s" transform="translate(2821.1,829) scale(0.64,1)" font-size="46" text-anchor="middle">m</text><text class="s" transform="translate(2845.7,829) scale(0.64,1)" font-size="46" text-anchor="middle">m</text><text class="k" x="2882.6" y="829.5" font-size="46" text-anchor="middle">站</text><text class="k" x="2931.8" y="829.5" font-size="46" text-anchor="middle">次</text><text class="s" x="3017.9" y="829" font-size="46" text-anchor="middle">3</text><text class="s" x="3042.5" y="829" font-size="46" text-anchor="middle">4</text>
<text font-family='"Noto Sans CJK SC",sans-serif' font-weight="300" x="2732" y="901.5" font-size="48" text-anchor="middle">≥</text><text class="s" x="2771.9" y="900.5" font-size="46" text-anchor="middle">2</text><text class="s" x="2796.5" y="900.5" font-size="46" text-anchor="middle">5</text><text class="s" transform="translate(2821.1,900.5) scale(0.64,1)" font-size="46" text-anchor="middle">m</text><text class="s" transform="translate(2845.7,900.5) scale(0.64,1)" font-size="46" text-anchor="middle">m</text><text class="k" x="2882.6" y="901" font-size="46" text-anchor="middle">站</text><text class="k" x="2931.8" y="901" font-size="46" text-anchor="middle">次</text><text class="s" x="3017.9" y="900.5" font-size="46" text-anchor="middle">4</text><text class="s" x="3042.5" y="900.5" font-size="46" text-anchor="middle">6</text>
<text font-family='"Noto Sans CJK SC",sans-serif' font-weight="300" x="2732" y="972.5" font-size="48" text-anchor="middle">≥</text><text class="s" x="2771.9" y="971.5" font-size="46" text-anchor="middle">5</text><text class="s" x="2796.5" y="971.5" font-size="46" text-anchor="middle">0</text><text class="s" transform="translate(2821.1,971.5) scale(0.64,1)" font-size="46" text-anchor="middle">m</text><text class="s" transform="translate(2845.7,971.5) scale(0.64,1)" font-size="46" text-anchor="middle">m</text><text class="k" x="2882.6" y="972" font-size="46" text-anchor="middle">站</text><text class="k" x="2931.8" y="972" font-size="46" text-anchor="middle">次</text><text class="s" x="3017.9" y="971.5" font-size="46" text-anchor="middle">4</text><text class="s" x="3042.5" y="971.5" font-size="46" text-anchor="middle">7</text>
<text font-family='"Noto Sans CJK SC",sans-serif' font-weight="300" x="2732" y="1043.5" font-size="48" text-anchor="middle">≥</text><text class="s" x="2771.9" y="1042.5" font-size="46" text-anchor="middle">1</text><text class="s" x="2796.5" y="1042.5" font-size="46" text-anchor="middle">0</text><text class="s" x="2821.1" y="1042.5" font-size="46" text-anchor="middle">0</text><text class="s" transform="translate(2845.7,1042.5) scale(0.64,1)" font-size="46" text-anchor="middle">m</text><text class="s" transform="translate(2870.3,1042.5) scale(0.64,1)" font-size="46" text-anchor="middle">m</text><text class="k" x="2907.2" y="1043" font-size="46" text-anchor="middle">站</text><text class="k" x="2956.4" y="1043" font-size="46" text-anchor="middle">次</text><text class="s" x="3042.5" y="1042.5" font-size="46" text-anchor="middle">1</text>
<g stroke="#000" stroke-width="2.4" fill="none">
<rect x="2710.4" y="1124.6" width="1350.1" height="1399.4"/>
<path d="M2710.4 1224.56 H4060.5"/>
<path d="M2710.4 1324.51 H4060.5"/>
<path d="M2710.4 1424.47 H4060.5"/>
<path d="M2710.4 1524.43 H4060.5"/>
<path d="M2710.4 1624.38 H4060.5"/>
<path d="M2710.4 1724.34 H4060.5"/>
<path d="M2710.4 1824.3 H4060.5"/>
<path d="M2710.4 1924.26 H4060.5"/>
<path d="M2710.4 2024.21 H4060.5"/>
<path d="M2710.4 2124.17 H4060.5"/>
<path d="M2710.4 2224.13 H4060.5"/>
<path d="M2710.4 2324.08 H4060.5"/>
<path d="M2710.4 2424.04 H4060.5"/>
<path d="M2860.5 1124.6 V2524"/>
<path d="M3160 1124.6 V2524"/>
<path d="M3460 1124.6 V2524"/>
</g>
<g class="k" font-size="35.5" letter-spacing="2.1" fill="#000">
<text x="2742.3" y="1196">序号</text><text x="2942" y="1196">县、区</text><text x="3213" y="1196">平均降水量</text><text x="3562.8" y="1196">最大值及出现地点</text>
</g>
<text class="s" x="2761.4" y="1295.2" font-size="37.4" font-weight="bold">1</text>
<text class="k" x="2932.7" y="1295.7" font-size="35.5" letter-spacing="1.4">和平区</text>
<text class="s" x="3291" y="1295.2" font-size="37.4" font-weight="bold">67</text>
<text x="3552" y="1295.2"><tspan class="k" font-size="35.5" letter-spacing="1.4" dy="0.5">和平工农桥</tspan><tspan class="s" font-size="37.4" font-weight="bold" dy="-0.5">(100.2)</tspan></text>
<text class="s" x="2761.4" y="1395.16" font-size="37.4" font-weight="bold">2</text>
<text class="k" x="2932.7" y="1395.66" font-size="35.5" letter-spacing="1.4">大东区</text>
<text class="s" x="3291" y="1395.16" font-size="37.4" font-weight="bold">64.2</text>
<text x="3552" y="1395.16"><tspan class="k" font-size="35.5" letter-spacing="1.4" dy="0.5">大东广场泵站</tspan><tspan class="s" font-size="37.4" font-weight="bold" dy="-0.5">(83.1)</tspan></text>
<text class="s" x="2761.4" y="1495.11" font-size="37.4" font-weight="bold">3</text>
<text class="k" x="2932.7" y="1495.61" font-size="35.5" letter-spacing="1.4">皇姑区</text>
<text class="s" x="3291" y="1495.11" font-size="37.4" font-weight="bold">57</text>
<text x="3552" y="1495.11"><tspan class="k" font-size="35.5" letter-spacing="1.4" dy="0.5">皇姑北陵公园泵站</tspan><tspan class="s" font-size="37.4" font-weight="bold" dy="-0.5">(77.9)</tspan></text>
<text class="s" x="2761.4" y="1595.07" font-size="37.4" font-weight="bold">4</text>
<text class="k" x="2932.7" y="1595.57" font-size="35.5" letter-spacing="1.4">铁西区</text>
<text class="s" x="3291" y="1595.07" font-size="37.4" font-weight="bold">50.2</text>
<text x="3552" y="1595.07"><tspan class="k" font-size="35.5" letter-spacing="1.4" dy="0.5">铁西滑翔小学</tspan><tspan class="s" font-size="37.4" font-weight="bold" dy="-0.5">(97.2)</tspan></text>
<text class="s" x="2761.4" y="1695.03" font-size="37.4" font-weight="bold">5</text>
<text class="k" x="2932.7" y="1695.53" font-size="35.5" letter-spacing="1.4">沈河区</text>
<text class="s" x="3291" y="1695.03" font-size="37.4" font-weight="bold">46</text>
<text x="3552" y="1695.03"><tspan class="k" font-size="35.5" letter-spacing="1.4" dy="0.5">沈河省农业科学院</tspan><tspan class="s" font-size="37.4" font-weight="bold" dy="-0.5">(59.6)</tspan></text>
<text class="s" x="2761.4" y="1794.99" font-size="37.4" font-weight="bold">6</text>
<text class="k" x="2932.7" y="1795.49" font-size="35.5" letter-spacing="1.4">于洪区</text>
<text class="s" x="3291" y="1794.99" font-size="37.4" font-weight="bold">39</text>
<text x="3552" y="1794.99"><tspan class="k" font-size="35.5" letter-spacing="1.4" dy="0.5">于洪阳光一百</tspan><tspan class="s" font-size="37.4" font-weight="bold" dy="-0.5">(77.1)</tspan></text>
<text class="s" x="2761.4" y="1894.94" font-size="37.4" font-weight="bold">7</text>
<text class="k" x="2932.7" y="1895.44" font-size="35.5" letter-spacing="1.4">浑南区</text>
<text class="s" x="3291" y="1894.94" font-size="37.4" font-weight="bold">23.1</text>
<text x="3552" y="1894.94"><tspan class="k" font-size="35.5" letter-spacing="1.4" dy="0.5">浑南机场路泵站</tspan><tspan class="s" font-size="37.4" font-weight="bold" dy="-0.5">(60.5)</tspan></text>
<text class="s" x="2761.4" y="1994.9" font-size="37.4" font-weight="bold">8</text>
<text class="k" x="2932.7" y="1995.4" font-size="35.5" letter-spacing="1.4">辽中区</text>
<text class="s" x="3291" y="1994.9" font-size="37.4" font-weight="bold">19.5</text>
<text x="3552" y="1994.9"><tspan class="k" font-size="35.5" letter-spacing="1.4" dy="0.5">辽中六间房马龙</tspan><tspan class="s" font-size="37.4" font-weight="bold" dy="-0.5">(50.3)</tspan></text>
<text class="s" x="2761.4" y="2094.86" font-size="37.4" font-weight="bold">9</text>
<text class="k" x="2932.7" y="2095.36" font-size="35.5" letter-spacing="1.4">新民市</text>
<text class="s" x="3291" y="2094.86" font-size="37.4" font-weight="bold">16.4</text>
<text x="3552" y="2094.86"><tspan class="k" font-size="35.5" letter-spacing="1.4" dy="0.5">新民周坨子</tspan><tspan class="s" font-size="37.4" font-weight="bold" dy="-0.5">(56.9)</tspan></text>
<text class="s" x="2761.4" y="2194.81" font-size="37.4" font-weight="bold">10</text>
<text class="k" x="2932.7" y="2195.31" font-size="35.5" letter-spacing="1.4">沈北新区</text>
<text class="s" x="3291" y="2194.81" font-size="37.4" font-weight="bold">8</text>
<text x="3552" y="2194.81"><tspan class="k" font-size="35.5" letter-spacing="1.4" dy="0.5">沈北正良</tspan><tspan class="s" font-size="37.4" font-weight="bold" dy="-0.5">(37.6)</tspan></text>
<text class="s" x="2761.4" y="2294.77" font-size="37.4" font-weight="bold">11</text>
<text class="k" x="2932.7" y="2295.27" font-size="35.5" letter-spacing="1.4">苏家屯区</text>
<text class="s" x="3291" y="2294.77" font-size="37.4" font-weight="bold">7.5</text>
<text x="3552" y="2294.77"><tspan class="k" font-size="35.5" letter-spacing="1.4" dy="0.5">苏家屯林盛史三家子</tspan><tspan class="s" font-size="37.4" font-weight="bold" dy="-0.5">(19.2)</tspan></text>
<text class="s" x="2761.4" y="2394.73" font-size="37.4" font-weight="bold">12</text>
<text class="k" x="2932.7" y="2395.23" font-size="35.5" letter-spacing="1.4">法库县</text>
<text class="s" x="3291" y="2394.73" font-size="37.4" font-weight="bold">0.4</text>
<text x="3552" y="2394.73"><tspan class="k" font-size="35.5" letter-spacing="1.4" dy="0.5">法库三面船</tspan><tspan class="s" font-size="37.4" font-weight="bold" dy="-0.5">(2.1)</tspan></text>
<text class="s" x="2761.4" y="2494.68" font-size="37.4" font-weight="bold">13</text>
<text class="k" x="2932.7" y="2495.18" font-size="35.5" letter-spacing="1.4">康平县</text>
<text class="s" x="3291" y="2494.68" font-size="37.4" font-weight="bold">0</text>
<text x="3552" y="2494.68"><tspan class="k" font-size="35.5" letter-spacing="1.4" dy="0.5">康平二牛所口</tspan><tspan class="s" font-size="37.4" font-weight="bold" dy="-0.5">(0.8)</tspan></text>
<text class="k" x="3217.7" y="2591.1" font-size="46" text-anchor="middle">沈</text><text class="k" x="3267.1" y="2591.1" font-size="46" text-anchor="middle">阳</text><text class="k" x="3316.5" y="2591.1" font-size="46" text-anchor="middle">市</text><text class="k" x="3365.9" y="2591.1" font-size="46" text-anchor="middle">气</text><text class="k" x="3415.3" y="2591.1" font-size="46" text-anchor="middle">象</text><text class="k" x="3464.7" y="2591.1" font-size="46" text-anchor="middle">台</text><text class="s" x="3501.8" y="2590.6" font-size="46" text-anchor="middle">2</text><text class="s" x="3526.5" y="2590.6" font-size="46" text-anchor="middle">0</text><text class="s" x="3551.2" y="2590.6" font-size="46" text-anchor="middle">2</text><text class="s" x="3575.8" y="2590.6" font-size="46" text-anchor="middle">4</text><text class="k" x="3612.9" y="2591.1" font-size="46" text-anchor="middle">年</text><text class="s" x="3649.9" y="2590.6" font-size="46" text-anchor="middle">0</text><text class="s" x="3674.6" y="2590.6" font-size="46" text-anchor="middle">8</text><text class="k" x="3711.7" y="2591.1" font-size="46" text-anchor="middle">月</text><text class="s" x="3748.7" y="2590.6" font-size="46" text-anchor="middle">1</text><text class="s" x="3773.4" y="2590.6" font-size="46" text-anchor="middle">2</text><text class="k" x="3810.5" y="2591.1" font-size="46" text-anchor="middle">日</text><text class="s" x="3847.5" y="2590.6" font-size="46" text-anchor="middle">2</text><text class="s" x="3872.2" y="2590.6" font-size="46" text-anchor="middle">0</text><text class="k" x="3909.3" y="2591.1" font-size="46" text-anchor="middle">时</text><text class="k" x="3958.7" y="2591.1" font-size="46" text-anchor="middle">制</text><text class="k" x="4008.1" y="2591.1" font-size="46" text-anchor="middle">作</text>
<rect x="258.6" y="2234.3" width="312.7" height="707.4" fill="#fff" stroke="#000" stroke-width="4"/>
<rect x="279" y="2257.6" width="133.5" height="83.5" fill="#800000"/>
<text font-family='"Noto Sans CJK SC",sans-serif' font-weight="300" x="432" y="2308.65" font-size="25">≥</text>
<g class="s" font-size="23" text-anchor="middle"><text x="465 477.8 490.6" y="2307.65">250</text></g>
<rect x="279" y="2353.4" width="133.5" height="83.5" fill="#F400EC"/>
<g class="s" font-size="23" text-anchor="middle"><text x="439.4 452.2 465 477.8 490.6 503.4 516.2 526.4 541.8" y="2403.45">100˜249.9</text></g>
<rect x="279" y="2449.2" width="133.5" height="83.5" fill="#0000F6"/>
<g class="s" font-size="23" text-anchor="middle"><text x="439.4 452.2 465 477.8 490.6 500.8 516.2" y="2499.25">50˜99.9</text></g>
<rect x="279" y="2545" width="133.5" height="83.5" fill="#64B6F8"/>
<g class="s" font-size="23" text-anchor="middle"><text x="439.4 452.2 465 477.8 490.6 500.8 516.2" y="2595.05">25˜49.9</text></g>
<rect x="279" y="2640.8" width="133.5" height="83.5" fill="#3CB800"/>
<g class="s" font-size="23" text-anchor="middle"><text x="439.4 452.2 465 477.8 490.6 500.8 516.2" y="2690.85">10˜24.9</text></g>
<rect x="279" y="2736.6" width="133.5" height="83.5" fill="#A5F28D"/>
<g class="s" font-size="23" text-anchor="middle"><text x="439.4 452.2 465 475.2 490.6" y="2786.65">1˜9.9</text></g>
<rect x="279" y="2832.4" width="133.5" height="83.5" fill="#E8F4C6"/>
<g class="s" font-size="23" text-anchor="middle"><text x="439.4 449.6 465 477.8 490.6 500.8 516.2" y="2882.45">0.1˜0.9</text></g>
<defs><filter id="ws" x="-5%" y="-25%" width="110%" height="150%"><feDropShadow dx="1" dy="1.2" stdDeviation="2" flood-color="#000" flood-opacity="0.5"/></filter></defs>
<g filter="url(#ws)">
<text x="1721" y="3076" font-family='"Liberation Sans","Noto Sans CJK SC",sans-serif' font-size="120" fill="#fff" textLength="302" lengthAdjust="spacingAndGlyphs">@986</text>
<text x="2026.5" y="3069" font-family='"Liberation Sans","Noto Sans CJK SC",sans-serif' font-size="108" fill="#fff" letter-spacing="2.2">路上好朋友</text>
<polygon points="1587.12,3041.37 1589.84,3028.72 1596.17,3018.77 1605.21,3010.63 1614.25,3002.5 1623.29,2996.17 1630.52,2993 1636.85,2992.1 1642.28,2993 1645.9,2995.26 1649.06,3000.69 1649.06,3006.11 1648.16,3010.63 1654.03,3007.92 1659.46,3005.66 1668.5,3004.76 1673.47,3006.11 1676.64,3008.82 1679.8,3013.35 1680.71,3018.77 1678.9,3026.91 1686.58,3029.62 1691.1,3032.78 1693.82,3036.85 1696.08,3042.28 1695.62,3046.8 1693.82,3053.13 1690.2,3058.55 1684.77,3063.98 1677.54,3069.4 1668.5,3073.47 1659.46,3076.64 1650.42,3078.9 1641.37,3080.25 1632.33,3080.71 1623.29,3080.25 1614.25,3078.44 1605.21,3075.73 1597.97,3071.66 1592.55,3066.69 1588.93,3060.81 1587.12,3054.94" fill="#fff" stroke="#fff" stroke-width="3" stroke-linejoin="round"/>
<path d="M1673.9 2995.7Q1692 2995.5 1691.6 3014.5" fill="none" stroke="#fff" stroke-width="8.5" stroke-linecap="round"/>
<path d="M1672.5 2979.5Q1711 2979 1708.3 3017.5" fill="none" stroke="#fff" stroke-width="9.5" stroke-linecap="round"/>
</g>
<ellipse cx="1635" cy="3049" rx="36.6" ry="24" fill="#dcdcdc"/>
<ellipse cx="1632.3" cy="3051.3" rx="20.8" ry="17.2" fill="#fff"/>
<circle cx="1625.8" cy="3054.5" r="5.9" fill="#cfcfcf"/><circle cx="1637.3" cy="3047.7" r="2.3" fill="#c4c4c4"/>
</svg></body></html>
